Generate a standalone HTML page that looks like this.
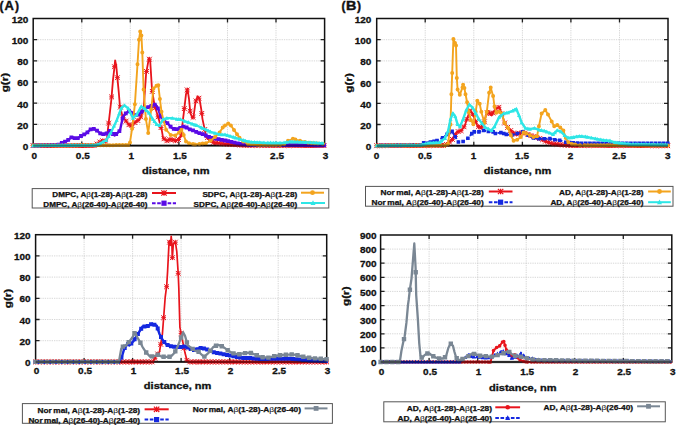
<!DOCTYPE html>
<html><head><meta charset="utf-8"><style>
html,body{margin:0;padding:0;background:#fff;width:677px;height:425px;overflow:hidden}
svg{display:block}
.t{font-family:'Liberation Sans',sans-serif;font-weight:bold;font-size:9.6px;fill:#111;stroke:#111;stroke-width:0.3px}
.a{font-family:'Liberation Sans',sans-serif;font-weight:bold;font-size:9px;fill:#111;stroke:#111;stroke-width:0.3px}
.p{font-family:'Liberation Sans',sans-serif;font-weight:bold;font-size:12px;fill:#111;stroke:#111;stroke-width:0.4px}
.l{font-family:'Liberation Sans',sans-serif;font-weight:bold;font-size:6.6px;fill:#111;stroke:#111;stroke-width:0.25px}
.b{font-weight:normal;stroke-width:0.05px}
</style></head><body>
<svg width="677" height="425" viewBox="0 0 677 425">
<rect width="677" height="425" fill="#fff"/>
<path d="M81.8 18.5V145.6M130.3 18.5V145.6M178.9 18.5V145.6M227.5 18.5V145.6M276.0 18.5V145.6M33.2 124.4H324.6M33.2 103.2H324.6M33.2 82.0H324.6M33.2 60.9H324.6M33.2 39.7H324.6" stroke="#c6c6c6" stroke-width="0.7" stroke-dasharray="1.3 1" fill="none"/>
<path d="M81.8 145.6v-4M81.8 18.5v4M130.3 145.6v-4M130.3 18.5v4M178.9 145.6v-4M178.9 18.5v4M227.5 145.6v-4M227.5 18.5v4M276.0 145.6v-4M276.0 18.5v4M33.2 124.4h4M324.6 124.4h-4M33.2 103.2h4M324.6 103.2h-4M33.2 82.0h4M324.6 82.0h-4M33.2 60.9h4M324.6 60.9h-4M33.2 39.7h4M324.6 39.7h-4" stroke="#222" stroke-width="1.3" fill="none"/>
<text transform="translate(34.20,158.90) scale(1.04,1)" text-anchor="middle" class="t">0</text>
<text transform="translate(82.77,158.90) scale(1.04,1)" text-anchor="middle" class="t">0.5</text>
<text transform="translate(131.33,158.90) scale(1.04,1)" text-anchor="middle" class="t">1</text>
<text transform="translate(179.90,158.90) scale(1.04,1)" text-anchor="middle" class="t">1.5</text>
<text transform="translate(228.47,158.90) scale(1.04,1)" text-anchor="middle" class="t">2</text>
<text transform="translate(277.03,158.90) scale(1.04,1)" text-anchor="middle" class="t">2.5</text>
<text transform="translate(325.60,158.90) scale(1.04,1)" text-anchor="middle" class="t">3</text>
<text transform="translate(28.40,150.00) scale(1.04,1)" text-anchor="end" class="t">0</text>
<text transform="translate(28.40,128.82) scale(1.04,1)" text-anchor="end" class="t">20</text>
<text transform="translate(28.40,107.63) scale(1.04,1)" text-anchor="end" class="t">40</text>
<text transform="translate(28.40,86.45) scale(1.04,1)" text-anchor="end" class="t">60</text>
<text transform="translate(28.40,65.27) scale(1.04,1)" text-anchor="end" class="t">80</text>
<text transform="translate(28.40,44.08) scale(1.04,1)" text-anchor="end" class="t">100</text>
<text transform="translate(28.40,22.90) scale(1.04,1)" text-anchor="end" class="t">120</text>
<text transform="translate(175.70,173.80) scale(1.23,1)" text-anchor="middle" class="a">distance, nm</text>
<text transform="translate(8.20,82.60) rotate(-90) scale(1.3,1)" text-anchor="middle" class="a">g(r)</text>
<path d="M425.2 18.5V145.7M473.8 18.5V145.7M522.4 18.5V145.7M570.9 18.5V145.7M619.5 18.5V145.7M376.7 124.5H668.0M376.7 103.3H668.0M376.7 82.1H668.0M376.7 60.9H668.0M376.7 39.7H668.0" stroke="#c6c6c6" stroke-width="0.7" stroke-dasharray="1.3 1" fill="none"/>
<path d="M425.2 145.7v-4M425.2 18.5v4M473.8 145.7v-4M473.8 18.5v4M522.4 145.7v-4M522.4 18.5v4M570.9 145.7v-4M570.9 18.5v4M619.5 145.7v-4M619.5 18.5v4M376.7 124.5h4M668.0 124.5h-4M376.7 103.3h4M668.0 103.3h-4M376.7 82.1h4M668.0 82.1h-4M376.7 60.9h4M668.0 60.9h-4M376.7 39.7h4M668.0 39.7h-4" stroke="#222" stroke-width="1.3" fill="none"/>
<text transform="translate(376.40,158.70) scale(1.04,1)" text-anchor="middle" class="t">0</text>
<text transform="translate(424.95,158.70) scale(1.04,1)" text-anchor="middle" class="t">0.5</text>
<text transform="translate(473.50,158.70) scale(1.04,1)" text-anchor="middle" class="t">1</text>
<text transform="translate(522.05,158.70) scale(1.04,1)" text-anchor="middle" class="t">1.5</text>
<text transform="translate(570.60,158.70) scale(1.04,1)" text-anchor="middle" class="t">2</text>
<text transform="translate(619.15,158.70) scale(1.04,1)" text-anchor="middle" class="t">2.5</text>
<text transform="translate(667.70,158.70) scale(1.04,1)" text-anchor="middle" class="t">3</text>
<text transform="translate(371.40,150.10) scale(1.04,1)" text-anchor="end" class="t">0</text>
<text transform="translate(371.40,128.90) scale(1.04,1)" text-anchor="end" class="t">20</text>
<text transform="translate(371.40,107.70) scale(1.04,1)" text-anchor="end" class="t">40</text>
<text transform="translate(371.40,86.50) scale(1.04,1)" text-anchor="end" class="t">60</text>
<text transform="translate(371.40,65.30) scale(1.04,1)" text-anchor="end" class="t">80</text>
<text transform="translate(371.40,44.10) scale(1.04,1)" text-anchor="end" class="t">100</text>
<text transform="translate(371.40,22.90) scale(1.04,1)" text-anchor="end" class="t">120</text>
<text transform="translate(517.60,173.90) scale(1.23,1)" text-anchor="middle" class="a">distance, nm</text>
<text transform="translate(352.20,82.90) rotate(-90) scale(1.3,1)" text-anchor="middle" class="a">g(r)</text>
<path d="M84.1 234.7V361.9M132.6 234.7V361.9M181.1 234.7V361.9M229.7 234.7V361.9M278.2 234.7V361.9M35.6 340.7H326.7M35.6 319.5H326.7M35.6 298.3H326.7M35.6 277.1H326.7M35.6 255.9H326.7" stroke="#c6c6c6" stroke-width="0.7" stroke-dasharray="1.3 1" fill="none"/>
<path d="M84.1 361.9v-4M84.1 234.7v4M132.6 361.9v-4M132.6 234.7v4M181.1 361.9v-4M181.1 234.7v4M229.7 361.9v-4M229.7 234.7v4M278.2 361.9v-4M278.2 234.7v4M35.6 340.7h4M326.7 340.7h-4M35.6 319.5h4M326.7 319.5h-4M35.6 298.3h4M326.7 298.3h-4M35.6 277.1h4M326.7 277.1h-4M35.6 255.9h4M326.7 255.9h-4" stroke="#222" stroke-width="1.3" fill="none"/>
<text transform="translate(36.50,373.90) scale(1.04,1)" text-anchor="middle" class="t">0</text>
<text transform="translate(85.02,373.90) scale(1.04,1)" text-anchor="middle" class="t">0.5</text>
<text transform="translate(133.53,373.90) scale(1.04,1)" text-anchor="middle" class="t">1</text>
<text transform="translate(182.05,373.90) scale(1.04,1)" text-anchor="middle" class="t">1.5</text>
<text transform="translate(230.57,373.90) scale(1.04,1)" text-anchor="middle" class="t">2</text>
<text transform="translate(279.08,373.90) scale(1.04,1)" text-anchor="middle" class="t">2.5</text>
<text transform="translate(327.60,373.90) scale(1.04,1)" text-anchor="middle" class="t">3</text>
<text transform="translate(30.60,366.00) scale(1.04,1)" text-anchor="end" class="t">0</text>
<text transform="translate(30.60,344.80) scale(1.04,1)" text-anchor="end" class="t">20</text>
<text transform="translate(30.60,323.60) scale(1.04,1)" text-anchor="end" class="t">40</text>
<text transform="translate(30.60,302.40) scale(1.04,1)" text-anchor="end" class="t">60</text>
<text transform="translate(30.60,281.20) scale(1.04,1)" text-anchor="end" class="t">80</text>
<text transform="translate(30.60,260.00) scale(1.04,1)" text-anchor="end" class="t">100</text>
<text transform="translate(30.60,238.80) scale(1.04,1)" text-anchor="end" class="t">120</text>
<text transform="translate(177.60,389.30) scale(1.23,1)" text-anchor="middle" class="a">distance, nm</text>
<text transform="translate(10.80,298.50) rotate(-90) scale(1.3,1)" text-anchor="middle" class="a">g(r)</text>
<path d="M429.1 235.0V362.0M477.7 235.0V362.0M526.2 235.0V362.0M574.7 235.0V362.0M623.3 235.0V362.0M380.6 347.9H671.8M380.6 333.8H671.8M380.6 319.7H671.8M380.6 305.6H671.8M380.6 291.4H671.8M380.6 277.3H671.8M380.6 263.2H671.8M380.6 249.1H671.8" stroke="#c6c6c6" stroke-width="0.7" stroke-dasharray="1.3 1" fill="none"/>
<path d="M429.1 362.0v-4M429.1 235.0v4M477.7 362.0v-4M477.7 235.0v4M526.2 362.0v-4M526.2 235.0v4M574.7 362.0v-4M574.7 235.0v4M623.3 362.0v-4M623.3 235.0v4M380.6 347.9h4M671.8 347.9h-4M380.6 333.8h4M671.8 333.8h-4M380.6 319.7h4M671.8 319.7h-4M380.6 305.6h4M671.8 305.6h-4M380.6 291.4h4M671.8 291.4h-4M380.6 277.3h4M671.8 277.3h-4M380.6 263.2h4M671.8 263.2h-4M380.6 249.1h4M671.8 249.1h-4" stroke="#222" stroke-width="1.3" fill="none"/>
<text transform="translate(381.50,374.60) scale(1.04,1)" text-anchor="middle" class="t">0</text>
<text transform="translate(430.03,374.60) scale(1.04,1)" text-anchor="middle" class="t">0.5</text>
<text transform="translate(478.57,374.60) scale(1.04,1)" text-anchor="middle" class="t">1</text>
<text transform="translate(527.10,374.60) scale(1.04,1)" text-anchor="middle" class="t">1.5</text>
<text transform="translate(575.63,374.60) scale(1.04,1)" text-anchor="middle" class="t">2</text>
<text transform="translate(624.17,374.60) scale(1.04,1)" text-anchor="middle" class="t">2.5</text>
<text transform="translate(672.70,374.60) scale(1.04,1)" text-anchor="middle" class="t">3</text>
<text transform="translate(376.60,366.10) scale(1.04,1)" text-anchor="end" class="t">0</text>
<text transform="translate(376.60,351.99) scale(1.04,1)" text-anchor="end" class="t">100</text>
<text transform="translate(376.60,337.88) scale(1.04,1)" text-anchor="end" class="t">200</text>
<text transform="translate(376.60,323.77) scale(1.04,1)" text-anchor="end" class="t">300</text>
<text transform="translate(376.60,309.66) scale(1.04,1)" text-anchor="end" class="t">400</text>
<text transform="translate(376.60,295.54) scale(1.04,1)" text-anchor="end" class="t">500</text>
<text transform="translate(376.60,281.43) scale(1.04,1)" text-anchor="end" class="t">600</text>
<text transform="translate(376.60,267.32) scale(1.04,1)" text-anchor="end" class="t">700</text>
<text transform="translate(376.60,253.21) scale(1.04,1)" text-anchor="end" class="t">800</text>
<text transform="translate(376.60,239.10) scale(1.04,1)" text-anchor="end" class="t">900</text>
<text transform="translate(522.70,390.50) scale(1.23,1)" text-anchor="middle" class="a">distance, nm</text>
<text transform="translate(349.30,296.20) rotate(-90) scale(1.3,1)" text-anchor="middle" class="a">g(r)</text>
<rect x="33.2" y="18.5" width="291.4" height="127.1" fill="none" stroke="#111" stroke-width="1.5"/>
<rect x="376.7" y="18.5" width="291.3" height="127.2" fill="none" stroke="#111" stroke-width="1.5"/>
<rect x="35.6" y="234.7" width="291.1" height="127.2" fill="none" stroke="#111" stroke-width="1.5"/>
<rect x="380.6" y="235.0" width="291.2" height="127.0" fill="none" stroke="#111" stroke-width="1.5"/>
<g>
<path d="M33.0 145.6L95.0 145.6L98.3 143.0L102.4 140.6L105.0 141.9L106.9 140.3L107.5 132.9L109.5 115.9L111.3 100.1L113.0 79.9L114.1 70.4L115.1 60.5L116.2 65.1L117.3 76.8L118.8 92.6L119.8 104.9L122.6 117.0L125.4 120.2L128.2 123.7L130.6 126.5L133.0 124.4L135.2 122.3L139.8 119.1L143.6 109.6L146.1 73.6L148.9 58.1L150.2 60.9L152.0 89.5L154.5 105.4L158.2 117.0L161.9 130.8L163.1 138.2L166.9 140.8L170.7 139.2L175.3 140.8L179.1 139.2L181.4 135.0L182.9 120.2L184.2 109.6L186.0 94.2L187.5 88.9L189.0 99.0L190.3 112.8L192.5 118.1L193.6 116.5L195.5 102.2L197.6 96.3L199.6 99.3L201.3 109.6L202.5 119.1L204.3 127.6L205.9 135.5L208.9 139.2L213.5 142.4L225.0 143.9L245.0 145.3L324.6 145.6" stroke="#e8141c" stroke-width="1.8" fill="none" stroke-linejoin="round"/>
<path d="M30.6 145.6h4.8M33.0 143.2v4.8M30.6 143.2l4.8 4.8M35.4 143.2l-4.8 4.8M33.5 145.6h4.8M35.9 143.2v4.8M33.5 143.2l4.8 4.8M38.3 143.2l-4.8 4.8M36.4 145.6h4.8M38.8 143.2v4.8M36.4 143.2l4.8 4.8M41.2 143.2l-4.8 4.8M39.3 145.6h4.8M41.7 143.2v4.8M39.3 143.2l4.8 4.8M44.1 143.2l-4.8 4.8M42.2 145.6h4.8M44.6 143.2v4.8M42.2 143.2l4.8 4.8M47.0 143.2l-4.8 4.8M45.1 145.6h4.8M47.5 143.2v4.8M45.1 143.2l4.8 4.8M49.9 143.2l-4.8 4.8M48.1 145.6h4.8M50.5 143.2v4.8M48.1 143.2l4.8 4.8M52.9 143.2l-4.8 4.8M51.0 145.6h4.8M53.4 143.2v4.8M51.0 143.2l4.8 4.8M55.8 143.2l-4.8 4.8M53.9 145.6h4.8M56.3 143.2v4.8M53.9 143.2l4.8 4.8M58.7 143.2l-4.8 4.8M56.8 145.6h4.8M59.2 143.2v4.8M56.8 143.2l4.8 4.8M61.6 143.2l-4.8 4.8M59.7 145.6h4.8M62.1 143.2v4.8M59.7 143.2l4.8 4.8M64.5 143.2l-4.8 4.8M62.6 145.6h4.8M65.0 143.2v4.8M62.6 143.2l4.8 4.8M67.4 143.2l-4.8 4.8M65.5 145.6h4.8M67.9 143.2v4.8M65.5 143.2l4.8 4.8M70.3 143.2l-4.8 4.8M68.4 145.6h4.8M70.8 143.2v4.8M68.4 143.2l4.8 4.8M73.2 143.2l-4.8 4.8M71.3 145.6h4.8M73.7 143.2v4.8M71.3 143.2l4.8 4.8M76.1 143.2l-4.8 4.8M74.2 145.6h4.8M76.7 143.2v4.8M74.2 143.2l4.8 4.8M79.1 143.2l-4.8 4.8M77.2 145.6h4.8M79.6 143.2v4.8M77.2 143.2l4.8 4.8M82.0 143.2l-4.8 4.8M80.1 145.6h4.8M82.5 143.2v4.8M80.1 143.2l4.8 4.8M84.9 143.2l-4.8 4.8M83.0 145.6h4.8M85.4 143.2v4.8M83.0 143.2l4.8 4.8M87.8 143.2l-4.8 4.8M85.9 145.6h4.8M88.3 143.2v4.8M85.9 143.2l4.8 4.8M90.7 143.2l-4.8 4.8M88.8 145.6h4.8M91.2 143.2v4.8M88.8 143.2l4.8 4.8M93.6 143.2l-4.8 4.8M91.7 145.6h4.8M94.1 143.2v4.8M91.7 143.2l4.8 4.8M96.5 143.2l-4.8 4.8M94.6 144.0h4.8M97.0 141.6v4.8M94.6 141.6l4.8 4.8M99.4 141.6l-4.8 4.8M97.5 142.0h4.8M99.9 139.6v4.8M97.5 139.6l4.8 4.8M102.3 139.6l-4.8 4.8M100.4 140.8h4.8M102.8 138.4v4.8M100.4 138.4l4.8 4.8M105.2 138.4l-4.8 4.8M103.3 141.3h4.8M105.8 138.9v4.8M103.3 138.9l4.8 4.8M108.2 138.9l-4.8 4.8M106.3 123.1h4.8M108.7 120.7v4.8M106.3 120.7l4.8 4.8M111.1 120.7l-4.8 4.8M109.2 96.9h4.8M111.6 94.5v4.8M109.2 94.5l4.8 4.8M114.0 94.5l-4.8 4.8M112.1 66.7h4.8M114.5 64.3v4.8M112.1 64.3l4.8 4.8M116.9 64.3l-4.8 4.8M115.0 77.7h4.8M117.4 75.3v4.8M115.0 75.3l4.8 4.8M119.8 75.3l-4.8 4.8M117.9 107.1h4.8M120.3 104.7v4.8M117.9 104.7l4.8 4.8M122.7 104.7l-4.8 4.8M120.8 117.7h4.8M123.2 115.3v4.8M120.8 115.3l4.8 4.8M125.6 115.3l-4.8 4.8M123.7 121.1h4.8M126.1 118.7v4.8M123.7 118.7l4.8 4.8M128.5 118.7l-4.8 4.8M126.6 124.7h4.8M129.0 122.3v4.8M126.6 122.3l4.8 4.8M131.4 122.3l-4.8 4.8M129.5 125.4h4.8M131.9 123.0v4.8M129.5 123.0l4.8 4.8M134.3 123.0l-4.8 4.8M132.5 122.6h4.8M134.9 120.2v4.8M132.5 120.2l4.8 4.8M137.3 120.2l-4.8 4.8M135.4 120.5h4.8M137.8 118.1v4.8M135.4 118.1l4.8 4.8M140.2 118.1l-4.8 4.8M138.3 116.9h4.8M140.7 114.5v4.8M138.3 114.5l4.8 4.8M143.1 114.5l-4.8 4.8M141.2 109.6h4.8M143.6 107.2v4.8M141.2 107.2l4.8 4.8M146.0 107.2l-4.8 4.8M144.1 71.4h4.8M146.5 69.0v4.8M144.1 69.0l4.8 4.8M148.9 69.0l-4.8 4.8M147.0 59.2h4.8M149.4 56.8v4.8M147.0 56.8l4.8 4.8M151.8 56.8l-4.8 4.8M149.9 91.4h4.8M152.3 89.0v4.8M149.9 89.0l4.8 4.8M154.7 89.0l-4.8 4.8M152.8 107.6h4.8M155.2 105.2v4.8M152.8 105.2l4.8 4.8M157.6 105.2l-4.8 4.8M155.7 116.8h4.8M158.1 114.4v4.8M155.7 114.4l4.8 4.8M160.5 114.4l-4.8 4.8M158.6 127.6h4.8M161.0 125.2v4.8M158.6 125.2l4.8 4.8M163.4 125.2l-4.8 4.8M161.6 138.8h4.8M164.0 136.4v4.8M161.6 136.4l4.8 4.8M166.4 136.4l-4.8 4.8M164.5 140.8h4.8M166.9 138.4v4.8M164.5 138.4l4.8 4.8M169.3 138.4l-4.8 4.8M167.4 139.6h4.8M169.8 137.2v4.8M167.4 137.2l4.8 4.8M172.2 137.2l-4.8 4.8M170.3 139.9h4.8M172.7 137.5v4.8M170.3 137.5l4.8 4.8M175.1 137.5l-4.8 4.8M173.2 140.7h4.8M175.6 138.3v4.8M173.2 138.3l4.8 4.8M178.0 138.3l-4.8 4.8M176.1 139.5h4.8M178.5 137.1v4.8M176.1 137.1l4.8 4.8M180.9 137.1l-4.8 4.8M179.0 134.9h4.8M181.4 132.5v4.8M179.0 132.5l4.8 4.8M183.8 132.5l-4.8 4.8M181.9 108.6h4.8M184.3 106.2v4.8M181.9 106.2l4.8 4.8M186.7 106.2l-4.8 4.8M184.8 89.9h4.8M187.2 87.5v4.8M184.8 87.5l4.8 4.8M189.6 87.5l-4.8 4.8M187.7 111.1h4.8M190.1 108.7v4.8M187.7 108.7l4.8 4.8M192.5 108.7l-4.8 4.8M190.7 117.3h4.8M193.1 114.9v4.8M190.7 114.9l4.8 4.8M195.5 114.9l-4.8 4.8M193.6 100.9h4.8M196.0 98.5v4.8M193.6 98.5l4.8 4.8M198.4 98.5l-4.8 4.8M196.5 98.2h4.8M198.9 95.8v4.8M196.5 95.8l4.8 4.8M201.3 95.8l-4.8 4.8M199.4 113.4h4.8M201.8 111.0v4.8M199.4 111.0l4.8 4.8M204.2 111.0l-4.8 4.8M202.3 129.5h4.8M204.7 127.1v4.8M202.3 127.1l4.8 4.8M207.1 127.1l-4.8 4.8M205.2 137.6h4.8M207.6 135.2v4.8M205.2 135.2l4.8 4.8M210.0 135.2l-4.8 4.8M208.1 140.4h4.8M210.5 138.0v4.8M208.1 138.0l4.8 4.8M212.9 138.0l-4.8 4.8M211.0 142.4h4.8M213.4 140.0v4.8M211.0 140.0l4.8 4.8M215.8 140.0l-4.8 4.8M213.9 142.8h4.8M216.3 140.4v4.8M213.9 140.4l4.8 4.8M218.7 140.4l-4.8 4.8M216.8 143.2h4.8M219.2 140.8v4.8M216.8 140.8l4.8 4.8M221.6 140.8l-4.8 4.8M219.8 143.5h4.8M222.2 141.1v4.8M219.8 141.1l4.8 4.8M224.6 141.1l-4.8 4.8M222.7 143.9h4.8M225.1 141.5v4.8M222.7 141.5l4.8 4.8M227.5 141.5l-4.8 4.8M225.6 144.1h4.8M228.0 141.7v4.8M225.6 141.7l4.8 4.8M230.4 141.7l-4.8 4.8M228.5 144.3h4.8M230.9 141.9v4.8M228.5 141.9l4.8 4.8M233.3 141.9l-4.8 4.8M231.4 144.5h4.8M233.8 142.1v4.8M231.4 142.1l4.8 4.8M236.2 142.1l-4.8 4.8M234.3 144.7h4.8M236.7 142.3v4.8M234.3 142.3l4.8 4.8M239.1 142.3l-4.8 4.8M237.2 144.9h4.8M239.6 142.5v4.8M237.2 142.5l4.8 4.8M242.0 142.5l-4.8 4.8M240.1 145.1h4.8M242.5 142.7v4.8M240.1 142.7l4.8 4.8M244.9 142.7l-4.8 4.8M243.0 145.3h4.8M245.4 142.9v4.8M243.0 142.9l4.8 4.8M247.8 142.9l-4.8 4.8M245.9 145.3h4.8M248.3 142.9v4.8M245.9 142.9l4.8 4.8M250.7 142.9l-4.8 4.8M248.8 145.3h4.8M251.2 142.9v4.8M248.8 142.9l4.8 4.8M253.7 142.9l-4.8 4.8M251.8 145.3h4.8M254.2 142.9v4.8M251.8 142.9l4.8 4.8M256.6 142.9l-4.8 4.8M254.7 145.3h4.8M257.1 142.9v4.8M254.7 142.9l4.8 4.8M259.5 142.9l-4.8 4.8M257.6 145.3h4.8M260.0 142.9v4.8M257.6 142.9l4.8 4.8M262.4 142.9l-4.8 4.8M260.5 145.4h4.8M262.9 143.0v4.8M260.5 143.0l4.8 4.8M265.3 143.0l-4.8 4.8M263.4 145.4h4.8M265.8 143.0v4.8M263.4 143.0l4.8 4.8M268.2 143.0l-4.8 4.8M266.3 145.4h4.8M268.7 143.0v4.8M266.3 143.0l4.8 4.8M271.1 143.0l-4.8 4.8M269.2 145.4h4.8M271.6 143.0v4.8M269.2 143.0l4.8 4.8M274.0 143.0l-4.8 4.8M272.1 145.4h4.8M274.5 143.0v4.8M272.1 143.0l4.8 4.8M276.9 143.0l-4.8 4.8M275.0 145.4h4.8M277.4 143.0v4.8M275.0 143.0l4.8 4.8M279.8 143.0l-4.8 4.8M278.0 145.4h4.8M280.4 143.0v4.8M278.0 143.0l4.8 4.8M282.8 143.0l-4.8 4.8M280.9 145.4h4.8M283.3 143.0v4.8M280.9 143.0l4.8 4.8M285.7 143.0l-4.8 4.8M283.8 145.4h4.8M286.2 143.0v4.8M283.8 143.0l4.8 4.8M288.6 143.0l-4.8 4.8M286.7 145.5h4.8M289.1 143.1v4.8M286.7 143.1l4.8 4.8M291.5 143.1l-4.8 4.8M289.6 145.5h4.8M292.0 143.1v4.8M289.6 143.1l4.8 4.8M294.4 143.1l-4.8 4.8M292.5 145.5h4.8M294.9 143.1v4.8M292.5 143.1l4.8 4.8M297.3 143.1l-4.8 4.8M295.4 145.5h4.8M297.8 143.1v4.8M295.4 143.1l4.8 4.8M300.2 143.1l-4.8 4.8M298.3 145.5h4.8M300.7 143.1v4.8M298.3 143.1l4.8 4.8M303.1 143.1l-4.8 4.8M301.2 145.5h4.8M303.6 143.1v4.8M301.2 143.1l4.8 4.8M306.0 143.1l-4.8 4.8M304.1 145.5h4.8M306.5 143.1v4.8M304.1 143.1l4.8 4.8M308.9 143.1l-4.8 4.8M307.1 145.5h4.8M309.4 143.1v4.8M307.1 143.1l4.8 4.8M311.8 143.1l-4.8 4.8M310.0 145.6h4.8M312.4 143.2v4.8M310.0 143.2l4.8 4.8M314.8 143.2l-4.8 4.8M312.9 145.6h4.8M315.3 143.2v4.8M312.9 143.2l4.8 4.8M317.7 143.2l-4.8 4.8M315.8 145.6h4.8M318.2 143.2v4.8M315.8 143.2l4.8 4.8M320.6 143.2l-4.8 4.8M318.7 145.6h4.8M321.1 143.2v4.8M318.7 143.2l4.8 4.8M323.5 143.2l-4.8 4.8M321.6 145.6h4.8M324.0 143.2v4.8M321.6 143.2l4.8 4.8M326.4 143.2l-4.8 4.8" stroke="#e8141c" stroke-width="1.0" fill="none"/>
<path d="M33.0 145.6L57.7 145.1L61.8 143.0L66.5 141.2L71.8 137.1L76.5 138.9L81.2 135.9L85.9 133.6L90.6 129.4L94.2 128.9L97.7 131.2L101.2 134.2L106.1 133.9L109.9 130.8L114.5 135.5L119.9 130.8L122.9 117.0L125.2 113.8L129.8 110.6L132.9 113.8L136.7 115.9L140.5 112.8L145.9 108.0L150.5 106.4L155.5 104.3L158.5 109.6L160.4 115.9L163.8 120.2L167.6 123.4L171.5 127.6L175.3 129.7L179.1 128.7L182.9 126.5L186.8 127.6L190.6 129.7L194.4 130.8L198.2 132.9L202.0 133.9L205.9 135.5L209.7 137.1L213.5 138.2L217.3 138.9L221.2 139.8L227.2 140.9L237.0 143.3L250.0 145.1L324.6 145.3" stroke="#5a0ae6" stroke-width="2.4" fill="none" stroke-linejoin="round"/>
<path d="M31.1 143.7h3.8v3.8h-3.8zM34.3 143.6h3.8v3.8h-3.8zM37.5 143.6h3.8v3.8h-3.8zM40.7 143.5h3.8v3.8h-3.8zM43.9 143.4h3.8v3.8h-3.8zM47.1 143.4h3.8v3.8h-3.8zM50.3 143.3h3.8v3.8h-3.8zM53.5 143.2h3.8v3.8h-3.8zM56.7 142.7h3.8v3.8h-3.8zM59.9 141.1h3.8v3.8h-3.8zM63.1 139.8h3.8v3.8h-3.8zM66.3 138.0h3.8v3.8h-3.8zM69.5 135.5h3.8v3.8h-3.8zM72.7 136.3h3.8v3.8h-3.8zM75.9 136.2h3.8v3.8h-3.8zM79.1 134.1h3.8v3.8h-3.8zM82.3 132.5h3.8v3.8h-3.8zM85.5 130.4h3.8v3.8h-3.8zM88.7 127.5h3.8v3.8h-3.8zM91.9 127.0h3.8v3.8h-3.8zM95.1 128.8h3.8v3.8h-3.8zM98.3 131.4h3.8v3.8h-3.8zM101.5 132.2h3.8v3.8h-3.8zM104.7 131.6h3.8v3.8h-3.8zM107.9 129.0h3.8v3.8h-3.8zM111.1 132.1h3.8v3.8h-3.8zM114.3 132.1h3.8v3.8h-3.8zM117.5 129.3h3.8v3.8h-3.8zM120.7 116.5h3.8v3.8h-3.8zM123.9 111.5h3.8v3.8h-3.8zM127.1 109.3h3.8v3.8h-3.8zM130.3 111.2h3.8v3.8h-3.8zM133.5 113.3h3.8v3.8h-3.8zM136.7 112.5h3.8v3.8h-3.8zM139.9 109.7h3.8v3.8h-3.8zM143.1 106.9h3.8v3.8h-3.8zM146.3 105.3h3.8v3.8h-3.8zM149.5 104.1h3.8v3.8h-3.8zM152.7 102.8h3.8v3.8h-3.8zM155.9 106.5h3.8v3.8h-3.8zM159.1 114.8h3.8v3.8h-3.8zM162.3 118.6h3.8v3.8h-3.8zM165.5 121.3h3.8v3.8h-3.8zM168.7 124.7h3.8v3.8h-3.8zM171.9 127.0h3.8v3.8h-3.8zM175.1 127.3h3.8v3.8h-3.8zM178.3 126.1h3.8v3.8h-3.8zM181.5 124.8h3.8v3.8h-3.8zM184.7 125.6h3.8v3.8h-3.8zM187.9 127.4h3.8v3.8h-3.8zM191.1 128.5h3.8v3.8h-3.8zM194.3 129.9h3.8v3.8h-3.8zM197.5 131.3h3.8v3.8h-3.8zM200.7 132.3h3.8v3.8h-3.8zM203.9 133.6h3.8v3.8h-3.8zM207.1 134.9h3.8v3.8h-3.8zM210.3 135.9h3.8v3.8h-3.8zM213.5 136.7h3.8v3.8h-3.8zM216.7 137.3h3.8v3.8h-3.8zM219.9 138.0h3.8v3.8h-3.8zM223.1 138.6h3.8v3.8h-3.8zM226.3 139.3h3.8v3.8h-3.8zM229.5 140.0h3.8v3.8h-3.8zM232.7 140.8h3.8v3.8h-3.8zM235.9 141.5h3.8v3.8h-3.8zM239.1 141.9h3.8v3.8h-3.8zM242.3 142.4h3.8v3.8h-3.8zM245.5 142.8h3.8v3.8h-3.8zM248.7 143.2h3.8v3.8h-3.8zM251.9 143.2h3.8v3.8h-3.8zM255.1 143.2h3.8v3.8h-3.8zM258.3 143.2h3.8v3.8h-3.8zM261.5 143.2h3.8v3.8h-3.8zM264.7 143.2h3.8v3.8h-3.8zM267.9 143.2h3.8v3.8h-3.8zM271.1 143.2h3.8v3.8h-3.8zM274.3 143.2h3.8v3.8h-3.8zM277.5 143.3h3.8v3.8h-3.8zM280.7 143.3h3.8v3.8h-3.8zM283.9 143.3h3.8v3.8h-3.8zM287.1 143.3h3.8v3.8h-3.8zM290.3 143.3h3.8v3.8h-3.8zM293.5 143.3h3.8v3.8h-3.8zM296.7 143.3h3.8v3.8h-3.8zM299.9 143.3h3.8v3.8h-3.8zM303.1 143.3h3.8v3.8h-3.8zM306.3 143.3h3.8v3.8h-3.8zM309.5 143.3h3.8v3.8h-3.8zM312.7 143.4h3.8v3.8h-3.8zM315.9 143.4h3.8v3.8h-3.8zM319.1 143.4h3.8v3.8h-3.8zM322.3 143.4h3.8v3.8h-3.8z" fill="#5a0ae6"/>
<path d="M33.0 145.6L128.3 145.1L130.0 142.4L132.1 128.7L134.9 104.3L137.5 64.3L139.0 39.7L140.2 31.5L141.4 35.4L142.3 52.4L143.6 89.5L145.9 119.1L148.2 132.9L151.2 109.6L153.5 88.4L156.5 85.7L158.3 85.2L159.9 99.0L161.5 111.7L163.5 120.2L166.1 129.7L170.7 135.0L175.3 135.5L179.1 132.4L181.4 129.7L183.7 135.0L186.0 141.6L189.0 143.2L195.0 144.5L205.9 143.2L210.5 140.8L215.0 137.1L219.6 132.5L222.7 127.6L225.0 125.5L228.2 123.6L230.9 125.5L234.0 129.9L237.0 134.2L239.5 137.8L243.2 141.5L248.0 144.0L260.0 145.1L280.0 145.0L284.2 144.0L288.0 140.8L292.9 138.8L300.0 140.8L308.3 142.7L322.7 143.8L324.6 144.0" stroke="#f3a41e" stroke-width="1.9" fill="none" stroke-linejoin="round"/>
<path d="M31.0 145.6a2.0 2.0 0 1 0 4.0 0a2.0 2.0 0 1 0 -4.0 0zM34.2 145.6a2.0 2.0 0 1 0 4.0 0a2.0 2.0 0 1 0 -4.0 0zM37.4 145.6a2.0 2.0 0 1 0 4.0 0a2.0 2.0 0 1 0 -4.0 0zM40.6 145.5a2.0 2.0 0 1 0 4.0 0a2.0 2.0 0 1 0 -4.0 0zM43.8 145.5a2.0 2.0 0 1 0 4.0 0a2.0 2.0 0 1 0 -4.0 0zM47.0 145.5a2.0 2.0 0 1 0 4.0 0a2.0 2.0 0 1 0 -4.0 0zM50.2 145.5a2.0 2.0 0 1 0 4.0 0a2.0 2.0 0 1 0 -4.0 0zM53.4 145.5a2.0 2.0 0 1 0 4.0 0a2.0 2.0 0 1 0 -4.0 0zM56.6 145.5a2.0 2.0 0 1 0 4.0 0a2.0 2.0 0 1 0 -4.0 0zM59.8 145.4a2.0 2.0 0 1 0 4.0 0a2.0 2.0 0 1 0 -4.0 0zM63.0 145.4a2.0 2.0 0 1 0 4.0 0a2.0 2.0 0 1 0 -4.0 0zM66.2 145.4a2.0 2.0 0 1 0 4.0 0a2.0 2.0 0 1 0 -4.0 0zM69.4 145.4a2.0 2.0 0 1 0 4.0 0a2.0 2.0 0 1 0 -4.0 0zM72.6 145.4a2.0 2.0 0 1 0 4.0 0a2.0 2.0 0 1 0 -4.0 0zM75.8 145.4a2.0 2.0 0 1 0 4.0 0a2.0 2.0 0 1 0 -4.0 0zM79.0 145.3a2.0 2.0 0 1 0 4.0 0a2.0 2.0 0 1 0 -4.0 0zM82.2 145.3a2.0 2.0 0 1 0 4.0 0a2.0 2.0 0 1 0 -4.0 0zM85.4 145.3a2.0 2.0 0 1 0 4.0 0a2.0 2.0 0 1 0 -4.0 0zM88.6 145.3a2.0 2.0 0 1 0 4.0 0a2.0 2.0 0 1 0 -4.0 0zM91.8 145.3a2.0 2.0 0 1 0 4.0 0a2.0 2.0 0 1 0 -4.0 0zM95.0 145.2a2.0 2.0 0 1 0 4.0 0a2.0 2.0 0 1 0 -4.0 0zM98.2 145.2a2.0 2.0 0 1 0 4.0 0a2.0 2.0 0 1 0 -4.0 0zM101.4 145.2a2.0 2.0 0 1 0 4.0 0a2.0 2.0 0 1 0 -4.0 0zM104.6 145.2a2.0 2.0 0 1 0 4.0 0a2.0 2.0 0 1 0 -4.0 0zM107.8 145.2a2.0 2.0 0 1 0 4.0 0a2.0 2.0 0 1 0 -4.0 0zM111.0 145.2a2.0 2.0 0 1 0 4.0 0a2.0 2.0 0 1 0 -4.0 0zM114.2 145.1a2.0 2.0 0 1 0 4.0 0a2.0 2.0 0 1 0 -4.0 0zM117.4 145.1a2.0 2.0 0 1 0 4.0 0a2.0 2.0 0 1 0 -4.0 0zM120.6 145.1a2.0 2.0 0 1 0 4.0 0a2.0 2.0 0 1 0 -4.0 0zM123.8 145.1a2.0 2.0 0 1 0 4.0 0a2.0 2.0 0 1 0 -4.0 0zM126.3 145.1a2.0 2.0 0 1 0 4.0 0a2.0 2.0 0 1 0 -4.0 0zM128.0 142.4a2.0 2.0 0 1 0 4.0 0a2.0 2.0 0 1 0 -4.0 0zM130.1 128.7a2.0 2.0 0 1 0 4.0 0a2.0 2.0 0 1 0 -4.0 0zM132.9 104.3a2.0 2.0 0 1 0 4.0 0a2.0 2.0 0 1 0 -4.0 0zM135.5 64.3a2.0 2.0 0 1 0 4.0 0a2.0 2.0 0 1 0 -4.0 0zM137.0 39.7a2.0 2.0 0 1 0 4.0 0a2.0 2.0 0 1 0 -4.0 0zM138.2 31.5a2.0 2.0 0 1 0 4.0 0a2.0 2.0 0 1 0 -4.0 0zM139.4 35.4a2.0 2.0 0 1 0 4.0 0a2.0 2.0 0 1 0 -4.0 0zM140.3 52.4a2.0 2.0 0 1 0 4.0 0a2.0 2.0 0 1 0 -4.0 0zM141.6 89.5a2.0 2.0 0 1 0 4.0 0a2.0 2.0 0 1 0 -4.0 0zM143.9 119.1a2.0 2.0 0 1 0 4.0 0a2.0 2.0 0 1 0 -4.0 0zM146.2 132.9a2.0 2.0 0 1 0 4.0 0a2.0 2.0 0 1 0 -4.0 0zM149.2 109.6a2.0 2.0 0 1 0 4.0 0a2.0 2.0 0 1 0 -4.0 0zM151.5 88.4a2.0 2.0 0 1 0 4.0 0a2.0 2.0 0 1 0 -4.0 0zM154.5 85.7a2.0 2.0 0 1 0 4.0 0a2.0 2.0 0 1 0 -4.0 0zM156.3 85.2a2.0 2.0 0 1 0 4.0 0a2.0 2.0 0 1 0 -4.0 0zM157.9 99.0a2.0 2.0 0 1 0 4.0 0a2.0 2.0 0 1 0 -4.0 0zM159.5 111.7a2.0 2.0 0 1 0 4.0 0a2.0 2.0 0 1 0 -4.0 0zM161.5 120.2a2.0 2.0 0 1 0 4.0 0a2.0 2.0 0 1 0 -4.0 0zM164.1 129.7a2.0 2.0 0 1 0 4.0 0a2.0 2.0 0 1 0 -4.0 0zM168.7 135.0a2.0 2.0 0 1 0 4.0 0a2.0 2.0 0 1 0 -4.0 0zM173.3 135.5a2.0 2.0 0 1 0 4.0 0a2.0 2.0 0 1 0 -4.0 0zM177.1 132.4a2.0 2.0 0 1 0 4.0 0a2.0 2.0 0 1 0 -4.0 0zM179.4 129.7a2.0 2.0 0 1 0 4.0 0a2.0 2.0 0 1 0 -4.0 0zM181.7 135.0a2.0 2.0 0 1 0 4.0 0a2.0 2.0 0 1 0 -4.0 0zM184.0 141.6a2.0 2.0 0 1 0 4.0 0a2.0 2.0 0 1 0 -4.0 0zM187.0 143.2a2.0 2.0 0 1 0 4.0 0a2.0 2.0 0 1 0 -4.0 0zM191.0 144.1a2.0 2.0 0 1 0 4.0 0a2.0 2.0 0 1 0 -4.0 0zM193.0 144.5a2.0 2.0 0 1 0 4.0 0a2.0 2.0 0 1 0 -4.0 0zM197.4 144.0a2.0 2.0 0 1 0 4.0 0a2.0 2.0 0 1 0 -4.0 0zM200.6 143.6a2.0 2.0 0 1 0 4.0 0a2.0 2.0 0 1 0 -4.0 0zM203.9 143.2a2.0 2.0 0 1 0 4.0 0a2.0 2.0 0 1 0 -4.0 0zM208.5 140.8a2.0 2.0 0 1 0 4.0 0a2.0 2.0 0 1 0 -4.0 0zM213.0 137.1a2.0 2.0 0 1 0 4.0 0a2.0 2.0 0 1 0 -4.0 0zM217.6 132.5a2.0 2.0 0 1 0 4.0 0a2.0 2.0 0 1 0 -4.0 0zM220.7 127.6a2.0 2.0 0 1 0 4.0 0a2.0 2.0 0 1 0 -4.0 0zM223.0 125.5a2.0 2.0 0 1 0 4.0 0a2.0 2.0 0 1 0 -4.0 0zM226.2 123.6a2.0 2.0 0 1 0 4.0 0a2.0 2.0 0 1 0 -4.0 0zM228.9 125.5a2.0 2.0 0 1 0 4.0 0a2.0 2.0 0 1 0 -4.0 0zM232.0 129.9a2.0 2.0 0 1 0 4.0 0a2.0 2.0 0 1 0 -4.0 0zM235.0 134.2a2.0 2.0 0 1 0 4.0 0a2.0 2.0 0 1 0 -4.0 0zM237.5 137.8a2.0 2.0 0 1 0 4.0 0a2.0 2.0 0 1 0 -4.0 0zM241.2 141.5a2.0 2.0 0 1 0 4.0 0a2.0 2.0 0 1 0 -4.0 0zM246.0 144.0a2.0 2.0 0 1 0 4.0 0a2.0 2.0 0 1 0 -4.0 0zM248.6 144.2a2.0 2.0 0 1 0 4.0 0a2.0 2.0 0 1 0 -4.0 0zM251.8 144.5a2.0 2.0 0 1 0 4.0 0a2.0 2.0 0 1 0 -4.0 0zM255.0 144.8a2.0 2.0 0 1 0 4.0 0a2.0 2.0 0 1 0 -4.0 0zM258.0 145.1a2.0 2.0 0 1 0 4.0 0a2.0 2.0 0 1 0 -4.0 0zM261.4 145.1a2.0 2.0 0 1 0 4.0 0a2.0 2.0 0 1 0 -4.0 0zM264.6 145.0a2.0 2.0 0 1 0 4.0 0a2.0 2.0 0 1 0 -4.0 0zM267.8 145.0a2.0 2.0 0 1 0 4.0 0a2.0 2.0 0 1 0 -4.0 0zM271.0 145.0a2.0 2.0 0 1 0 4.0 0a2.0 2.0 0 1 0 -4.0 0zM274.2 145.0a2.0 2.0 0 1 0 4.0 0a2.0 2.0 0 1 0 -4.0 0zM278.0 145.0a2.0 2.0 0 1 0 4.0 0a2.0 2.0 0 1 0 -4.0 0zM282.2 144.0a2.0 2.0 0 1 0 4.0 0a2.0 2.0 0 1 0 -4.0 0zM286.0 140.8a2.0 2.0 0 1 0 4.0 0a2.0 2.0 0 1 0 -4.0 0zM290.9 138.8a2.0 2.0 0 1 0 4.0 0a2.0 2.0 0 1 0 -4.0 0zM293.4 139.5a2.0 2.0 0 1 0 4.0 0a2.0 2.0 0 1 0 -4.0 0zM298.0 140.8a2.0 2.0 0 1 0 4.0 0a2.0 2.0 0 1 0 -4.0 0zM303.0 142.0a2.0 2.0 0 1 0 4.0 0a2.0 2.0 0 1 0 -4.0 0zM306.3 142.7a2.0 2.0 0 1 0 4.0 0a2.0 2.0 0 1 0 -4.0 0zM309.4 143.0a2.0 2.0 0 1 0 4.0 0a2.0 2.0 0 1 0 -4.0 0zM312.6 143.2a2.0 2.0 0 1 0 4.0 0a2.0 2.0 0 1 0 -4.0 0zM315.8 143.4a2.0 2.0 0 1 0 4.0 0a2.0 2.0 0 1 0 -4.0 0zM320.7 143.8a2.0 2.0 0 1 0 4.0 0a2.0 2.0 0 1 0 -4.0 0z" fill="#f3a41e"/>
<path d="M33.0 145.6L95.0 145.1L97.8 144.5L100.0 143.5L103.0 141.9L106.1 140.3L110.7 132.9L116.8 120.2L121.4 108.0L124.5 105.4L128.3 108.5L132.9 118.1L136.7 114.9L141.3 106.4L144.3 108.5L148.9 112.8L152.8 119.1L156.6 124.4L159.5 125.5L163.1 119.5L166.9 118.1L172.2 118.1L176.8 119.1L180.6 119.5L184.5 121.2L188.3 122.3L192.1 124.0L196.7 125.5L201.3 127.6L205.9 129.7L210.5 131.8L215.0 133.2L219.6 134.5L225.0 134.7L233.4 137.2L239.5 139.1L245.6 140.9L251.7 142.1L264.0 142.7L280.0 143.0L284.0 142.6L290.0 141.7L310.0 142.4L324.0 143.5" stroke="#2ee6e6" stroke-width="2.4" fill="none" stroke-linejoin="round"/>
<path d="M33.0 143.4l2.0 3.8h-4.0zM35.7 143.4l2.0 3.8h-4.0zM38.4 143.4l2.0 3.8h-4.0zM41.1 143.3l2.0 3.8h-4.0zM43.8 143.3l2.0 3.8h-4.0zM46.5 143.3l2.0 3.8h-4.0zM49.2 143.3l2.0 3.8h-4.0zM51.9 143.2l2.0 3.8h-4.0zM54.6 143.2l2.0 3.8h-4.0zM57.3 143.2l2.0 3.8h-4.0zM60.0 143.2l2.0 3.8h-4.0zM62.7 143.1l2.0 3.8h-4.0zM65.4 143.1l2.0 3.8h-4.0zM68.1 143.1l2.0 3.8h-4.0zM70.8 143.1l2.0 3.8h-4.0zM73.5 143.1l2.0 3.8h-4.0zM76.2 143.0l2.0 3.8h-4.0zM78.9 143.0l2.0 3.8h-4.0zM81.6 143.0l2.0 3.8h-4.0zM84.3 143.0l2.0 3.8h-4.0zM87.0 142.9l2.0 3.8h-4.0zM89.7 142.9l2.0 3.8h-4.0zM92.4 142.9l2.0 3.8h-4.0zM95.0 142.9l2.0 3.8h-4.0zM97.8 142.3l2.0 3.8h-4.0zM100.0 141.3l2.0 3.8h-4.0zM103.0 139.7l2.0 3.8h-4.0zM106.1 138.1l2.0 3.8h-4.0zM108.6 134.1l2.0 3.8h-4.0zM110.7 130.7l2.0 3.8h-4.0zM114.0 123.8l2.0 3.8h-4.0zM116.8 118.0l2.0 3.8h-4.0zM119.4 111.1l2.0 3.8h-4.0zM121.4 105.8l2.0 3.8h-4.0zM124.5 103.2l2.0 3.8h-4.0zM128.3 106.3l2.0 3.8h-4.0zM130.2 110.3l2.0 3.8h-4.0zM132.9 115.9l2.0 3.8h-4.0zM136.7 112.7l2.0 3.8h-4.0zM141.3 104.2l2.0 3.8h-4.0zM144.3 106.3l2.0 3.8h-4.0zM146.4 108.3l2.0 3.8h-4.0zM148.9 110.6l2.0 3.8h-4.0zM152.8 116.9l2.0 3.8h-4.0zM154.5 119.3l2.0 3.8h-4.0zM156.6 122.2l2.0 3.8h-4.0zM159.5 123.3l2.0 3.8h-4.0zM163.1 117.3l2.0 3.8h-4.0zM166.9 115.9l2.0 3.8h-4.0zM172.2 115.9l2.0 3.8h-4.0zM176.8 116.9l2.0 3.8h-4.0zM178.8 117.1l2.0 3.8h-4.0zM180.6 117.3l2.0 3.8h-4.0zM184.5 119.0l2.0 3.8h-4.0zM188.3 120.1l2.0 3.8h-4.0zM192.1 121.8l2.0 3.8h-4.0zM195.0 122.7l2.0 3.8h-4.0zM196.7 123.3l2.0 3.8h-4.0zM201.3 125.4l2.0 3.8h-4.0zM203.1 126.2l2.0 3.8h-4.0zM205.9 127.5l2.0 3.8h-4.0zM208.5 128.7l2.0 3.8h-4.0zM210.5 129.6l2.0 3.8h-4.0zM215.0 131.0l2.0 3.8h-4.0zM219.6 132.3l2.0 3.8h-4.0zM222.0 132.4l2.0 3.8h-4.0zM225.0 132.5l2.0 3.8h-4.0zM227.4 133.2l2.0 3.8h-4.0zM230.1 134.0l2.0 3.8h-4.0zM233.4 135.0l2.0 3.8h-4.0zM235.5 135.7l2.0 3.8h-4.0zM239.5 136.9l2.0 3.8h-4.0zM243.6 138.1l2.0 3.8h-4.0zM245.6 138.7l2.0 3.8h-4.0zM249.0 139.4l2.0 3.8h-4.0zM251.7 139.9l2.0 3.8h-4.0zM254.4 140.0l2.0 3.8h-4.0zM257.1 140.2l2.0 3.8h-4.0zM259.8 140.3l2.0 3.8h-4.0zM264.0 140.5l2.0 3.8h-4.0zM267.9 140.6l2.0 3.8h-4.0zM270.6 140.6l2.0 3.8h-4.0zM273.3 140.7l2.0 3.8h-4.0zM276.0 140.7l2.0 3.8h-4.0zM280.0 140.8l2.0 3.8h-4.0zM284.0 140.4l2.0 3.8h-4.0zM286.8 140.0l2.0 3.8h-4.0zM290.0 139.5l2.0 3.8h-4.0zM292.2 139.6l2.0 3.8h-4.0zM294.9 139.7l2.0 3.8h-4.0zM297.6 139.8l2.0 3.8h-4.0zM300.3 139.9l2.0 3.8h-4.0zM303.0 140.0l2.0 3.8h-4.0zM305.7 140.1l2.0 3.8h-4.0zM310.0 140.2l2.0 3.8h-4.0zM313.8 140.5l2.0 3.8h-4.0zM316.5 140.7l2.0 3.8h-4.0zM319.2 140.9l2.0 3.8h-4.0zM321.9 141.1l2.0 3.8h-4.0z" fill="#2ee6e6"/>
<path d="M376.7 145.7L445.0 145.4L447.4 143.9L452.1 139.9L455.2 134.5L458.4 131.4L461.5 130.5L464.7 125.8L467.9 116.4L470.2 110.1L472.6 113.9L475.0 119.5L477.3 125.8L480.5 128.2L483.6 125.0L486.0 115.0L488.4 110.9L491.5 115.6L495.4 109.0L499.1 107.2L501.8 113.6L504.5 122.6L508.1 128.1L511.7 131.7L515.4 134.4L519.0 133.5L522.6 132.6L526.2 133.5L529.9 135.3L535.3 137.0L540.7 138.8L546.2 141.6L551.6 143.4L560.0 144.6L570.0 145.4L668.0 145.7" stroke="#e8141c" stroke-width="1.8" fill="none" stroke-linejoin="round"/>
<path d="M374.3 145.7h4.8M376.7 143.3v4.8M374.3 143.3l4.8 4.8M379.1 143.3l-4.8 4.8M377.2 145.7h4.8M379.6 143.3v4.8M377.2 143.3l4.8 4.8M382.0 143.3l-4.8 4.8M380.1 145.7h4.8M382.5 143.3v4.8M380.1 143.3l4.8 4.8M384.9 143.3l-4.8 4.8M383.0 145.7h4.8M385.4 143.3v4.8M383.0 143.3l4.8 4.8M387.8 143.3l-4.8 4.8M385.9 145.6h4.8M388.3 143.2v4.8M385.9 143.2l4.8 4.8M390.7 143.2l-4.8 4.8M388.9 145.6h4.8M391.2 143.2v4.8M388.9 143.2l4.8 4.8M393.6 143.2l-4.8 4.8M391.8 145.6h4.8M394.2 143.2v4.8M391.8 143.2l4.8 4.8M396.6 143.2l-4.8 4.8M394.7 145.6h4.8M397.1 143.2v4.8M394.7 143.2l4.8 4.8M399.5 143.2l-4.8 4.8M397.6 145.6h4.8M400.0 143.2v4.8M397.6 143.2l4.8 4.8M402.4 143.2l-4.8 4.8M400.5 145.6h4.8M402.9 143.2v4.8M400.5 143.2l4.8 4.8M405.3 143.2l-4.8 4.8M403.4 145.6h4.8M405.8 143.2v4.8M403.4 143.2l4.8 4.8M408.2 143.2l-4.8 4.8M406.3 145.6h4.8M408.7 143.2v4.8M406.3 143.2l4.8 4.8M411.1 143.2l-4.8 4.8M409.2 145.5h4.8M411.6 143.1v4.8M409.2 143.1l4.8 4.8M414.0 143.1l-4.8 4.8M412.1 145.5h4.8M414.5 143.1v4.8M412.1 143.1l4.8 4.8M416.9 143.1l-4.8 4.8M415.0 145.5h4.8M417.4 143.1v4.8M415.0 143.1l4.8 4.8M419.8 143.1l-4.8 4.8M418.0 145.5h4.8M420.4 143.1v4.8M418.0 143.1l4.8 4.8M422.8 143.1l-4.8 4.8M420.9 145.5h4.8M423.3 143.1v4.8M420.9 143.1l4.8 4.8M425.7 143.1l-4.8 4.8M423.8 145.5h4.8M426.2 143.1v4.8M423.8 143.1l4.8 4.8M428.6 143.1l-4.8 4.8M426.7 145.5h4.8M429.1 143.1v4.8M426.7 143.1l4.8 4.8M431.5 143.1l-4.8 4.8M429.6 145.4h4.8M432.0 143.0v4.8M429.6 143.0l4.8 4.8M434.4 143.0l-4.8 4.8M432.5 145.4h4.8M434.9 143.0v4.8M432.5 143.0l4.8 4.8M437.3 143.0l-4.8 4.8M435.4 145.4h4.8M437.8 143.0v4.8M435.4 143.0l4.8 4.8M440.2 143.0l-4.8 4.8M438.3 145.4h4.8M440.7 143.0v4.8M438.3 143.0l4.8 4.8M443.1 143.0l-4.8 4.8M441.2 145.4h4.8M443.6 143.0v4.8M441.2 143.0l4.8 4.8M446.0 143.0l-4.8 4.8M444.1 144.4h4.8M446.5 142.0v4.8M444.1 142.0l4.8 4.8M448.9 142.0l-4.8 4.8M447.1 142.1h4.8M449.4 139.7v4.8M447.1 139.7l4.8 4.8M451.8 139.7l-4.8 4.8M450.0 139.4h4.8M452.4 137.0v4.8M450.0 137.0l4.8 4.8M454.8 137.0l-4.8 4.8M452.9 134.4h4.8M455.3 132.0v4.8M452.9 132.0l4.8 4.8M457.7 132.0l-4.8 4.8M455.8 131.6h4.8M458.2 129.2v4.8M455.8 129.2l4.8 4.8M460.6 129.2l-4.8 4.8M458.7 130.7h4.8M461.1 128.3v4.8M458.7 128.3l4.8 4.8M463.5 128.3l-4.8 4.8M461.6 126.8h4.8M464.0 124.4v4.8M461.6 124.4l4.8 4.8M466.4 124.4l-4.8 4.8M464.5 119.3h4.8M466.9 116.9v4.8M464.5 116.9l4.8 4.8M469.3 116.9l-4.8 4.8M467.4 111.1h4.8M469.8 108.7v4.8M467.4 108.7l4.8 4.8M472.2 108.7l-4.8 4.8M470.3 114.2h4.8M472.7 111.8v4.8M470.3 111.8l4.8 4.8M475.1 111.8l-4.8 4.8M473.2 121.3h4.8M475.6 118.9v4.8M473.2 118.9l4.8 4.8M478.0 118.9l-4.8 4.8M476.2 126.7h4.8M478.6 124.3v4.8M476.2 124.3l4.8 4.8M480.9 124.3l-4.8 4.8M479.1 127.2h4.8M481.5 124.8v4.8M479.1 124.8l4.8 4.8M483.9 124.8l-4.8 4.8M482.0 121.8h4.8M484.4 119.4v4.8M482.0 119.4l4.8 4.8M486.8 119.4l-4.8 4.8M484.9 112.8h4.8M487.3 110.4v4.8M484.9 110.4l4.8 4.8M489.7 110.4l-4.8 4.8M487.8 113.6h4.8M490.2 111.2v4.8M487.8 111.2l4.8 4.8M492.6 111.2l-4.8 4.8M490.7 112.9h4.8M493.1 110.5v4.8M490.7 110.5l4.8 4.8M495.5 110.5l-4.8 4.8M493.6 108.7h4.8M496.0 106.3v4.8M493.6 106.3l4.8 4.8M498.4 106.3l-4.8 4.8M496.5 107.3h4.8M498.9 104.9v4.8M496.5 104.9l4.8 4.8M501.3 104.9l-4.8 4.8M499.4 113.7h4.8M501.8 111.3v4.8M499.4 111.3l4.8 4.8M504.2 111.3l-4.8 4.8M502.3 123.0h4.8M504.7 120.6v4.8M502.3 120.6l4.8 4.8M507.1 120.6l-4.8 4.8M505.2 127.4h4.8M507.6 125.0v4.8M505.2 125.0l4.8 4.8M510.0 125.0l-4.8 4.8M508.2 130.6h4.8M510.6 128.2v4.8M508.2 128.2l4.8 4.8M513.0 128.2l-4.8 4.8M511.1 133.0h4.8M513.5 130.6v4.8M511.1 130.6l4.8 4.8M515.9 130.6l-4.8 4.8M514.0 134.1h4.8M516.4 131.7v4.8M514.0 131.7l4.8 4.8M518.8 131.7l-4.8 4.8M516.9 133.4h4.8M519.3 131.0v4.8M516.9 131.0l4.8 4.8M521.7 131.0l-4.8 4.8M519.8 132.7h4.8M522.2 130.3v4.8M519.8 130.3l4.8 4.8M524.6 130.3l-4.8 4.8M522.7 133.2h4.8M525.1 130.8v4.8M522.7 130.8l4.8 4.8M527.5 130.8l-4.8 4.8M525.6 134.4h4.8M528.0 132.0v4.8M525.6 132.0l4.8 4.8M530.4 132.0l-4.8 4.8M528.5 135.6h4.8M530.9 133.2v4.8M528.5 133.2l4.8 4.8M533.3 133.2l-4.8 4.8M531.4 136.5h4.8M533.8 134.1v4.8M531.4 134.1l4.8 4.8M536.2 134.1l-4.8 4.8M534.4 137.5h4.8M536.8 135.1v4.8M534.4 135.1l4.8 4.8M539.1 135.1l-4.8 4.8M537.3 138.5h4.8M539.7 136.1v4.8M537.3 136.1l4.8 4.8M542.1 136.1l-4.8 4.8M540.2 139.7h4.8M542.6 137.3v4.8M540.2 137.3l4.8 4.8M545.0 137.3l-4.8 4.8M543.1 141.2h4.8M545.5 138.8v4.8M543.1 138.8l4.8 4.8M547.9 138.8l-4.8 4.8M546.0 142.3h4.8M548.4 139.9v4.8M546.0 139.9l4.8 4.8M550.8 139.9l-4.8 4.8M548.9 143.3h4.8M551.3 140.9v4.8M548.9 140.9l4.8 4.8M553.7 140.9l-4.8 4.8M551.8 143.8h4.8M554.2 141.4v4.8M551.8 141.4l4.8 4.8M556.6 141.4l-4.8 4.8M554.7 144.2h4.8M557.1 141.8v4.8M554.7 141.8l4.8 4.8M559.5 141.8l-4.8 4.8M557.6 144.6h4.8M560.0 142.2v4.8M557.6 142.2l4.8 4.8M562.4 142.2l-4.8 4.8M560.5 144.9h4.8M562.9 142.5v4.8M560.5 142.5l4.8 4.8M565.3 142.5l-4.8 4.8M563.5 145.1h4.8M565.9 142.7v4.8M563.5 142.7l4.8 4.8M568.2 142.7l-4.8 4.8M566.4 145.3h4.8M568.8 142.9v4.8M566.4 142.9l4.8 4.8M571.2 142.9l-4.8 4.8M569.3 145.4h4.8M571.7 143.0v4.8M569.3 143.0l4.8 4.8M574.1 143.0l-4.8 4.8M572.2 145.4h4.8M574.6 143.0v4.8M572.2 143.0l4.8 4.8M577.0 143.0l-4.8 4.8M575.1 145.4h4.8M577.5 143.0v4.8M575.1 143.0l4.8 4.8M579.9 143.0l-4.8 4.8M578.0 145.4h4.8M580.4 143.0v4.8M578.0 143.0l4.8 4.8M582.8 143.0l-4.8 4.8M580.9 145.4h4.8M583.3 143.0v4.8M580.9 143.0l4.8 4.8M585.7 143.0l-4.8 4.8M583.8 145.4h4.8M586.2 143.0v4.8M583.8 143.0l4.8 4.8M588.6 143.0l-4.8 4.8M586.7 145.4h4.8M589.1 143.0v4.8M586.7 143.0l4.8 4.8M591.5 143.0l-4.8 4.8M589.6 145.5h4.8M592.0 143.1v4.8M589.6 143.1l4.8 4.8M594.4 143.1l-4.8 4.8M592.6 145.5h4.8M595.0 143.1v4.8M592.6 143.1l4.8 4.8M597.4 143.1l-4.8 4.8M595.5 145.5h4.8M597.9 143.1v4.8M595.5 143.1l4.8 4.8M600.3 143.1l-4.8 4.8M598.4 145.5h4.8M600.8 143.1v4.8M598.4 143.1l4.8 4.8M603.2 143.1l-4.8 4.8M601.3 145.5h4.8M603.7 143.1v4.8M601.3 143.1l4.8 4.8M606.1 143.1l-4.8 4.8M604.2 145.5h4.8M606.6 143.1v4.8M604.2 143.1l4.8 4.8M609.0 143.1l-4.8 4.8M607.1 145.5h4.8M609.5 143.1v4.8M607.1 143.1l4.8 4.8M611.9 143.1l-4.8 4.8M610.0 145.5h4.8M612.4 143.1v4.8M610.0 143.1l4.8 4.8M614.8 143.1l-4.8 4.8M612.9 145.5h4.8M615.3 143.1v4.8M612.9 143.1l4.8 4.8M617.7 143.1l-4.8 4.8M615.8 145.5h4.8M618.2 143.1v4.8M615.8 143.1l4.8 4.8M620.6 143.1l-4.8 4.8M618.7 145.5h4.8M621.1 143.1v4.8M618.7 143.1l4.8 4.8M623.5 143.1l-4.8 4.8M621.6 145.6h4.8M624.0 143.2v4.8M621.6 143.2l4.8 4.8M626.4 143.2l-4.8 4.8M624.6 145.6h4.8M627.0 143.2v4.8M624.6 143.2l4.8 4.8M629.4 143.2l-4.8 4.8M627.5 145.6h4.8M629.9 143.2v4.8M627.5 143.2l4.8 4.8M632.3 143.2l-4.8 4.8M630.4 145.6h4.8M632.8 143.2v4.8M630.4 143.2l4.8 4.8M635.2 143.2l-4.8 4.8M633.3 145.6h4.8M635.7 143.2v4.8M633.3 143.2l4.8 4.8M638.1 143.2l-4.8 4.8M636.2 145.6h4.8M638.6 143.2v4.8M636.2 143.2l4.8 4.8M641.0 143.2l-4.8 4.8M639.1 145.6h4.8M641.5 143.2v4.8M639.1 143.2l4.8 4.8M643.9 143.2l-4.8 4.8M642.0 145.6h4.8M644.4 143.2v4.8M642.0 143.2l4.8 4.8M646.8 143.2l-4.8 4.8M644.9 145.6h4.8M647.3 143.2v4.8M644.9 143.2l4.8 4.8M649.7 143.2l-4.8 4.8M647.8 145.6h4.8M650.2 143.2v4.8M647.8 143.2l4.8 4.8M652.6 143.2l-4.8 4.8M650.8 145.7h4.8M653.1 143.3v4.8M650.8 143.3l4.8 4.8M655.5 143.3l-4.8 4.8M653.7 145.7h4.8M656.1 143.3v4.8M653.7 143.3l4.8 4.8M658.5 143.3l-4.8 4.8M656.6 145.7h4.8M659.0 143.3v4.8M656.6 143.3l4.8 4.8M661.4 143.3l-4.8 4.8M659.5 145.7h4.8M661.9 143.3v4.8M659.5 143.3l4.8 4.8M664.3 143.3l-4.8 4.8M662.4 145.7h4.8M664.8 143.3v4.8M662.4 143.3l4.8 4.8M667.2 143.3l-4.8 4.8M665.3 145.7h4.8M667.7 143.3v4.8M665.3 143.3l4.8 4.8M670.1 143.3l-4.8 4.8" stroke="#e8141c" stroke-width="1.0" fill="none"/>
<path d="M376.7 145.7L420.0 145.2L423.7 142.7L430.4 142.1L437.0 140.5L442.6 137.8L447.0 134.4L449.5 132.4L452.1 131.4L455.2 136.8L458.4 142.0L463.1 141.5L467.9 138.3L471.8 133.6L474.2 131.9L478.9 131.9L483.6 130.5L488.4 131.4L493.1 131.9L495.4 133.5L500.9 132.6L506.3 134.4L511.7 135.3L517.2 133.5L522.6 131.7L528.0 135.3L533.5 138.0L538.9 138.8L544.3 138.8L549.9 138.6L554.8 139.8L559.7 140.3L565.8 142.2L573.2 142.7L581.7 143.2L594.0 143.4L668.0 143.4" stroke="#1428e0" stroke-width="1.9" fill="none" stroke-linejoin="round" stroke-dasharray="3 2"/>
<path d="M374.9 143.9h3.6v3.6h-3.6zM379.0 143.8h3.6v3.6h-3.6zM383.1 143.8h3.6v3.6h-3.6zM387.2 143.7h3.6v3.6h-3.6zM391.3 143.7h3.6v3.6h-3.6zM395.4 143.6h3.6v3.6h-3.6zM399.5 143.6h3.6v3.6h-3.6zM403.6 143.5h3.6v3.6h-3.6zM407.7 143.5h3.6v3.6h-3.6zM411.8 143.4h3.6v3.6h-3.6zM418.2 143.4h3.6v3.6h-3.6zM421.9 140.9h3.6v3.6h-3.6zM428.6 140.3h3.6v3.6h-3.6zM432.3 139.4h3.6v3.6h-3.6zM435.2 138.7h3.6v3.6h-3.6zM440.8 135.9h3.6v3.6h-3.6zM445.2 132.6h3.6v3.6h-3.6zM447.7 130.6h3.6v3.6h-3.6zM450.3 129.6h3.6v3.6h-3.6zM453.4 135.0h3.6v3.6h-3.6zM456.6 140.2h3.6v3.6h-3.6zM461.3 139.7h3.6v3.6h-3.6zM466.1 136.5h3.6v3.6h-3.6zM470.0 131.8h3.6v3.6h-3.6zM472.4 130.1h3.6v3.6h-3.6zM477.1 130.1h3.6v3.6h-3.6zM481.8 128.7h3.6v3.6h-3.6zM486.6 129.6h3.6v3.6h-3.6zM491.3 130.1h3.6v3.6h-3.6zM493.6 131.7h3.6v3.6h-3.6zM499.1 130.8h3.6v3.6h-3.6zM502.0 131.7h3.6v3.6h-3.6zM504.5 132.6h3.6v3.6h-3.6zM509.9 133.5h3.6v3.6h-3.6zM515.4 131.7h3.6v3.6h-3.6zM520.8 129.9h3.6v3.6h-3.6zM526.2 133.5h3.6v3.6h-3.6zM531.7 136.2h3.6v3.6h-3.6zM537.1 137.0h3.6v3.6h-3.6zM542.5 137.0h3.6v3.6h-3.6zM548.1 136.8h3.6v3.6h-3.6zM553.0 138.0h3.6v3.6h-3.6zM557.9 138.5h3.6v3.6h-3.6zM564.0 140.4h3.6v3.6h-3.6zM567.6 140.7h3.6v3.6h-3.6zM571.4 140.9h3.6v3.6h-3.6zM575.8 141.2h3.6v3.6h-3.6zM579.9 141.4h3.6v3.6h-3.6zM584.0 141.4h3.6v3.6h-3.6zM588.1 141.5h3.6v3.6h-3.6zM592.2 141.6h3.6v3.6h-3.6zM596.3 141.6h3.6v3.6h-3.6zM600.4 141.6h3.6v3.6h-3.6zM604.5 141.6h3.6v3.6h-3.6zM608.6 141.6h3.6v3.6h-3.6zM612.7 141.6h3.6v3.6h-3.6zM616.8 141.6h3.6v3.6h-3.6zM620.9 141.6h3.6v3.6h-3.6zM625.0 141.6h3.6v3.6h-3.6zM629.1 141.6h3.6v3.6h-3.6zM633.2 141.6h3.6v3.6h-3.6zM637.3 141.6h3.6v3.6h-3.6zM641.4 141.6h3.6v3.6h-3.6zM645.5 141.6h3.6v3.6h-3.6zM649.6 141.6h3.6v3.6h-3.6zM653.7 141.6h3.6v3.6h-3.6zM657.8 141.6h3.6v3.6h-3.6zM661.9 141.6h3.6v3.6h-3.6zM666.0 141.6h3.6v3.6h-3.6z" fill="#1428e0"/>
<path d="M376.7 145.7L445.0 145.4L448.1 143.9L450.5 124.5L451.4 94.3L452.2 72.9L453.4 39.0L455.0 42.9L456.0 45.4L456.8 77.9L457.6 89.5L459.8 94.8L462.5 87.4L463.1 84.8L464.4 88.1L465.5 94.2L467.1 102.2L468.6 111.8L471.0 120.3L473.4 124.3L475.7 111.8L477.3 100.7L479.7 103.8L481.3 111.8L484.4 122.7L486.8 111.8L489.1 92.7L490.7 87.4L493.1 95.9L494.5 106.5L496.3 112.8L499.1 111.8L501.8 113.6L504.5 122.7L508.1 128.1L510.8 135.3L513.6 140.7L517.2 139.8L520.8 137.0L523.5 132.6L526.2 133.5L529.9 135.3L533.5 137.0L537.1 136.2L538.9 126.2L541.6 113.6L545.3 110.0L548.0 114.5L551.7 121.4L554.2 126.3L557.2 125.1L560.3 127.5L563.4 130.5L565.8 137.9L568.3 142.2L571.9 144.0L580.0 145.2L668.0 145.5" stroke="#f3a41e" stroke-width="1.9" fill="none" stroke-linejoin="round"/>
<path d="M374.7 145.7a2.0 2.0 0 1 0 4.0 0a2.0 2.0 0 1 0 -4.0 0zM377.9 145.7a2.0 2.0 0 1 0 4.0 0a2.0 2.0 0 1 0 -4.0 0zM381.1 145.7a2.0 2.0 0 1 0 4.0 0a2.0 2.0 0 1 0 -4.0 0zM384.3 145.7a2.0 2.0 0 1 0 4.0 0a2.0 2.0 0 1 0 -4.0 0zM387.5 145.6a2.0 2.0 0 1 0 4.0 0a2.0 2.0 0 1 0 -4.0 0zM390.7 145.6a2.0 2.0 0 1 0 4.0 0a2.0 2.0 0 1 0 -4.0 0zM393.9 145.6a2.0 2.0 0 1 0 4.0 0a2.0 2.0 0 1 0 -4.0 0zM397.1 145.6a2.0 2.0 0 1 0 4.0 0a2.0 2.0 0 1 0 -4.0 0zM400.3 145.6a2.0 2.0 0 1 0 4.0 0a2.0 2.0 0 1 0 -4.0 0zM403.5 145.6a2.0 2.0 0 1 0 4.0 0a2.0 2.0 0 1 0 -4.0 0zM406.7 145.6a2.0 2.0 0 1 0 4.0 0a2.0 2.0 0 1 0 -4.0 0zM409.9 145.5a2.0 2.0 0 1 0 4.0 0a2.0 2.0 0 1 0 -4.0 0zM413.1 145.5a2.0 2.0 0 1 0 4.0 0a2.0 2.0 0 1 0 -4.0 0zM416.3 145.5a2.0 2.0 0 1 0 4.0 0a2.0 2.0 0 1 0 -4.0 0zM419.5 145.5a2.0 2.0 0 1 0 4.0 0a2.0 2.0 0 1 0 -4.0 0zM422.7 145.5a2.0 2.0 0 1 0 4.0 0a2.0 2.0 0 1 0 -4.0 0zM425.9 145.5a2.0 2.0 0 1 0 4.0 0a2.0 2.0 0 1 0 -4.0 0zM429.1 145.4a2.0 2.0 0 1 0 4.0 0a2.0 2.0 0 1 0 -4.0 0zM432.3 145.4a2.0 2.0 0 1 0 4.0 0a2.0 2.0 0 1 0 -4.0 0zM435.5 145.4a2.0 2.0 0 1 0 4.0 0a2.0 2.0 0 1 0 -4.0 0zM438.7 145.4a2.0 2.0 0 1 0 4.0 0a2.0 2.0 0 1 0 -4.0 0zM443.0 145.4a2.0 2.0 0 1 0 4.0 0a2.0 2.0 0 1 0 -4.0 0zM446.1 143.9a2.0 2.0 0 1 0 4.0 0a2.0 2.0 0 1 0 -4.0 0zM448.5 124.5a2.0 2.0 0 1 0 4.0 0a2.0 2.0 0 1 0 -4.0 0zM449.4 94.3a2.0 2.0 0 1 0 4.0 0a2.0 2.0 0 1 0 -4.0 0zM450.2 72.9a2.0 2.0 0 1 0 4.0 0a2.0 2.0 0 1 0 -4.0 0zM451.4 39.0a2.0 2.0 0 1 0 4.0 0a2.0 2.0 0 1 0 -4.0 0zM453.0 42.9a2.0 2.0 0 1 0 4.0 0a2.0 2.0 0 1 0 -4.0 0zM454.0 45.4a2.0 2.0 0 1 0 4.0 0a2.0 2.0 0 1 0 -4.0 0zM454.8 77.9a2.0 2.0 0 1 0 4.0 0a2.0 2.0 0 1 0 -4.0 0zM455.6 89.5a2.0 2.0 0 1 0 4.0 0a2.0 2.0 0 1 0 -4.0 0zM457.8 94.8a2.0 2.0 0 1 0 4.0 0a2.0 2.0 0 1 0 -4.0 0zM460.5 87.4a2.0 2.0 0 1 0 4.0 0a2.0 2.0 0 1 0 -4.0 0zM461.1 84.8a2.0 2.0 0 1 0 4.0 0a2.0 2.0 0 1 0 -4.0 0zM462.4 88.1a2.0 2.0 0 1 0 4.0 0a2.0 2.0 0 1 0 -4.0 0zM463.5 94.2a2.0 2.0 0 1 0 4.0 0a2.0 2.0 0 1 0 -4.0 0zM465.1 102.2a2.0 2.0 0 1 0 4.0 0a2.0 2.0 0 1 0 -4.0 0zM466.6 111.8a2.0 2.0 0 1 0 4.0 0a2.0 2.0 0 1 0 -4.0 0zM469.0 120.3a2.0 2.0 0 1 0 4.0 0a2.0 2.0 0 1 0 -4.0 0zM471.4 124.3a2.0 2.0 0 1 0 4.0 0a2.0 2.0 0 1 0 -4.0 0zM473.7 111.8a2.0 2.0 0 1 0 4.0 0a2.0 2.0 0 1 0 -4.0 0zM475.3 100.7a2.0 2.0 0 1 0 4.0 0a2.0 2.0 0 1 0 -4.0 0zM477.7 103.8a2.0 2.0 0 1 0 4.0 0a2.0 2.0 0 1 0 -4.0 0zM479.3 111.8a2.0 2.0 0 1 0 4.0 0a2.0 2.0 0 1 0 -4.0 0zM482.4 122.7a2.0 2.0 0 1 0 4.0 0a2.0 2.0 0 1 0 -4.0 0zM484.8 111.8a2.0 2.0 0 1 0 4.0 0a2.0 2.0 0 1 0 -4.0 0zM487.1 92.7a2.0 2.0 0 1 0 4.0 0a2.0 2.0 0 1 0 -4.0 0zM488.7 87.4a2.0 2.0 0 1 0 4.0 0a2.0 2.0 0 1 0 -4.0 0zM491.1 95.9a2.0 2.0 0 1 0 4.0 0a2.0 2.0 0 1 0 -4.0 0zM492.5 106.5a2.0 2.0 0 1 0 4.0 0a2.0 2.0 0 1 0 -4.0 0zM494.3 112.8a2.0 2.0 0 1 0 4.0 0a2.0 2.0 0 1 0 -4.0 0zM497.1 111.8a2.0 2.0 0 1 0 4.0 0a2.0 2.0 0 1 0 -4.0 0zM499.8 113.6a2.0 2.0 0 1 0 4.0 0a2.0 2.0 0 1 0 -4.0 0zM502.5 122.7a2.0 2.0 0 1 0 4.0 0a2.0 2.0 0 1 0 -4.0 0zM506.1 128.1a2.0 2.0 0 1 0 4.0 0a2.0 2.0 0 1 0 -4.0 0zM508.8 135.3a2.0 2.0 0 1 0 4.0 0a2.0 2.0 0 1 0 -4.0 0zM511.6 140.7a2.0 2.0 0 1 0 4.0 0a2.0 2.0 0 1 0 -4.0 0zM515.2 139.8a2.0 2.0 0 1 0 4.0 0a2.0 2.0 0 1 0 -4.0 0zM518.8 137.0a2.0 2.0 0 1 0 4.0 0a2.0 2.0 0 1 0 -4.0 0zM521.5 132.6a2.0 2.0 0 1 0 4.0 0a2.0 2.0 0 1 0 -4.0 0zM524.2 133.5a2.0 2.0 0 1 0 4.0 0a2.0 2.0 0 1 0 -4.0 0zM527.9 135.3a2.0 2.0 0 1 0 4.0 0a2.0 2.0 0 1 0 -4.0 0zM531.5 137.0a2.0 2.0 0 1 0 4.0 0a2.0 2.0 0 1 0 -4.0 0zM535.1 136.2a2.0 2.0 0 1 0 4.0 0a2.0 2.0 0 1 0 -4.0 0zM536.9 126.2a2.0 2.0 0 1 0 4.0 0a2.0 2.0 0 1 0 -4.0 0zM539.6 113.6a2.0 2.0 0 1 0 4.0 0a2.0 2.0 0 1 0 -4.0 0zM543.3 110.0a2.0 2.0 0 1 0 4.0 0a2.0 2.0 0 1 0 -4.0 0zM546.0 114.5a2.0 2.0 0 1 0 4.0 0a2.0 2.0 0 1 0 -4.0 0zM549.7 121.4a2.0 2.0 0 1 0 4.0 0a2.0 2.0 0 1 0 -4.0 0zM552.2 126.3a2.0 2.0 0 1 0 4.0 0a2.0 2.0 0 1 0 -4.0 0zM555.2 125.1a2.0 2.0 0 1 0 4.0 0a2.0 2.0 0 1 0 -4.0 0zM558.3 127.5a2.0 2.0 0 1 0 4.0 0a2.0 2.0 0 1 0 -4.0 0zM561.4 130.5a2.0 2.0 0 1 0 4.0 0a2.0 2.0 0 1 0 -4.0 0zM563.8 137.9a2.0 2.0 0 1 0 4.0 0a2.0 2.0 0 1 0 -4.0 0zM566.3 142.2a2.0 2.0 0 1 0 4.0 0a2.0 2.0 0 1 0 -4.0 0zM569.9 144.0a2.0 2.0 0 1 0 4.0 0a2.0 2.0 0 1 0 -4.0 0zM573.1 144.5a2.0 2.0 0 1 0 4.0 0a2.0 2.0 0 1 0 -4.0 0zM578.0 145.2a2.0 2.0 0 1 0 4.0 0a2.0 2.0 0 1 0 -4.0 0zM582.7 145.2a2.0 2.0 0 1 0 4.0 0a2.0 2.0 0 1 0 -4.0 0zM585.9 145.2a2.0 2.0 0 1 0 4.0 0a2.0 2.0 0 1 0 -4.0 0zM589.1 145.2a2.0 2.0 0 1 0 4.0 0a2.0 2.0 0 1 0 -4.0 0zM592.3 145.2a2.0 2.0 0 1 0 4.0 0a2.0 2.0 0 1 0 -4.0 0zM595.5 145.2a2.0 2.0 0 1 0 4.0 0a2.0 2.0 0 1 0 -4.0 0zM598.7 145.2a2.0 2.0 0 1 0 4.0 0a2.0 2.0 0 1 0 -4.0 0zM601.9 145.3a2.0 2.0 0 1 0 4.0 0a2.0 2.0 0 1 0 -4.0 0zM605.1 145.3a2.0 2.0 0 1 0 4.0 0a2.0 2.0 0 1 0 -4.0 0zM608.3 145.3a2.0 2.0 0 1 0 4.0 0a2.0 2.0 0 1 0 -4.0 0zM611.5 145.3a2.0 2.0 0 1 0 4.0 0a2.0 2.0 0 1 0 -4.0 0zM614.7 145.3a2.0 2.0 0 1 0 4.0 0a2.0 2.0 0 1 0 -4.0 0zM617.9 145.3a2.0 2.0 0 1 0 4.0 0a2.0 2.0 0 1 0 -4.0 0zM621.1 145.3a2.0 2.0 0 1 0 4.0 0a2.0 2.0 0 1 0 -4.0 0zM624.3 145.3a2.0 2.0 0 1 0 4.0 0a2.0 2.0 0 1 0 -4.0 0zM627.5 145.3a2.0 2.0 0 1 0 4.0 0a2.0 2.0 0 1 0 -4.0 0zM630.7 145.4a2.0 2.0 0 1 0 4.0 0a2.0 2.0 0 1 0 -4.0 0zM633.9 145.4a2.0 2.0 0 1 0 4.0 0a2.0 2.0 0 1 0 -4.0 0zM637.1 145.4a2.0 2.0 0 1 0 4.0 0a2.0 2.0 0 1 0 -4.0 0zM640.3 145.4a2.0 2.0 0 1 0 4.0 0a2.0 2.0 0 1 0 -4.0 0zM643.5 145.4a2.0 2.0 0 1 0 4.0 0a2.0 2.0 0 1 0 -4.0 0zM646.7 145.4a2.0 2.0 0 1 0 4.0 0a2.0 2.0 0 1 0 -4.0 0zM649.9 145.4a2.0 2.0 0 1 0 4.0 0a2.0 2.0 0 1 0 -4.0 0zM653.1 145.4a2.0 2.0 0 1 0 4.0 0a2.0 2.0 0 1 0 -4.0 0zM656.3 145.5a2.0 2.0 0 1 0 4.0 0a2.0 2.0 0 1 0 -4.0 0zM659.5 145.5a2.0 2.0 0 1 0 4.0 0a2.0 2.0 0 1 0 -4.0 0zM662.7 145.5a2.0 2.0 0 1 0 4.0 0a2.0 2.0 0 1 0 -4.0 0zM665.9 145.5a2.0 2.0 0 1 0 4.0 0a2.0 2.0 0 1 0 -4.0 0z" fill="#f3a41e"/>
<path d="M376.7 145.7L420.0 145.2L430.0 143.0L439.5 142.5L445.0 138.3L448.1 130.9L450.5 119.2L452.9 113.2L455.2 116.4L457.6 124.3L460.0 126.6L463.1 119.2L466.3 110.0L469.4 104.5L472.6 107.6L475.7 113.2L478.9 119.2L482.0 123.4L485.2 127.4L488.4 129.0L491.5 130.5L494.5 126.6L499.1 117.2L503.6 113.6L508.1 112.6L512.6 110.8L516.3 109.0L519.0 115.4L521.7 122.6L525.3 128.1L529.9 129.1L534.4 128.1L538.9 129.9L544.3 130.9L549.8 133.0L553.0 134.3L557.2 130.5L560.9 131.7L564.6 135.4L568.3 137.9L573.2 137.3L579.3 136.1L585.4 136.7L591.5 137.9L597.6 139.1L603.8 140.3L610.0 140.8L615.0 142.5L630.0 144.2L668.0 144.9" stroke="#2ee6e6" stroke-width="2.4" fill="none" stroke-linejoin="round"/>
<path d="M376.7 143.5l2.0 3.8h-4.0zM379.4 143.5l2.0 3.8h-4.0zM382.1 143.4l2.0 3.8h-4.0zM384.8 143.4l2.0 3.8h-4.0zM387.5 143.4l2.0 3.8h-4.0zM390.2 143.3l2.0 3.8h-4.0zM392.9 143.3l2.0 3.8h-4.0zM395.6 143.3l2.0 3.8h-4.0zM398.3 143.2l2.0 3.8h-4.0zM401.0 143.2l2.0 3.8h-4.0zM403.7 143.2l2.0 3.8h-4.0zM406.4 143.1l2.0 3.8h-4.0zM409.1 143.1l2.0 3.8h-4.0zM411.8 143.1l2.0 3.8h-4.0zM414.5 143.0l2.0 3.8h-4.0zM417.2 143.0l2.0 3.8h-4.0zM420.0 143.0l2.0 3.8h-4.0zM422.6 142.4l2.0 3.8h-4.0zM425.3 141.8l2.0 3.8h-4.0zM428.0 141.3l2.0 3.8h-4.0zM430.0 140.8l2.0 3.8h-4.0zM433.4 140.7l2.0 3.8h-4.0zM436.1 140.5l2.0 3.8h-4.0zM439.5 140.3l2.0 3.8h-4.0zM441.5 138.8l2.0 3.8h-4.0zM445.0 136.1l2.0 3.8h-4.0zM448.1 128.7l2.0 3.8h-4.0zM450.5 117.0l2.0 3.8h-4.0zM452.9 111.0l2.0 3.8h-4.0zM455.2 114.2l2.0 3.8h-4.0zM457.6 122.1l2.0 3.8h-4.0zM460.0 124.4l2.0 3.8h-4.0zM463.1 117.0l2.0 3.8h-4.0zM466.3 107.8l2.0 3.8h-4.0zM469.4 102.3l2.0 3.8h-4.0zM472.6 105.4l2.0 3.8h-4.0zM475.7 111.0l2.0 3.8h-4.0zM478.9 117.0l2.0 3.8h-4.0zM482.0 121.2l2.0 3.8h-4.0zM485.2 125.2l2.0 3.8h-4.0zM488.4 126.8l2.0 3.8h-4.0zM491.5 128.3l2.0 3.8h-4.0zM494.5 124.4l2.0 3.8h-4.0zM499.1 115.0l2.0 3.8h-4.0zM500.9 113.5l2.0 3.8h-4.0zM503.6 111.4l2.0 3.8h-4.0zM506.3 110.8l2.0 3.8h-4.0zM508.1 110.4l2.0 3.8h-4.0zM512.6 108.6l2.0 3.8h-4.0zM514.4 107.7l2.0 3.8h-4.0zM516.3 106.8l2.0 3.8h-4.0zM519.0 113.2l2.0 3.8h-4.0zM521.7 120.4l2.0 3.8h-4.0zM525.3 125.9l2.0 3.8h-4.0zM527.9 126.4l2.0 3.8h-4.0zM529.9 126.9l2.0 3.8h-4.0zM534.4 125.9l2.0 3.8h-4.0zM538.9 127.7l2.0 3.8h-4.0zM541.4 128.1l2.0 3.8h-4.0zM544.3 128.7l2.0 3.8h-4.0zM546.8 129.6l2.0 3.8h-4.0zM549.8 130.8l2.0 3.8h-4.0zM553.0 132.1l2.0 3.8h-4.0zM554.9 130.4l2.0 3.8h-4.0zM557.2 128.3l2.0 3.8h-4.0zM560.9 129.5l2.0 3.8h-4.0zM564.6 133.2l2.0 3.8h-4.0zM568.3 135.7l2.0 3.8h-4.0zM571.1 135.4l2.0 3.8h-4.0zM573.2 135.1l2.0 3.8h-4.0zM576.5 134.4l2.0 3.8h-4.0zM579.3 133.9l2.0 3.8h-4.0zM581.9 134.1l2.0 3.8h-4.0zM585.4 134.5l2.0 3.8h-4.0zM587.3 134.9l2.0 3.8h-4.0zM591.5 135.7l2.0 3.8h-4.0zM595.4 136.5l2.0 3.8h-4.0zM597.6 136.9l2.0 3.8h-4.0zM600.8 137.5l2.0 3.8h-4.0zM603.8 138.1l2.0 3.8h-4.0zM606.2 138.3l2.0 3.8h-4.0zM610.0 138.6l2.0 3.8h-4.0zM615.0 140.3l2.0 3.8h-4.0zM617.0 140.5l2.0 3.8h-4.0zM619.7 140.9l2.0 3.8h-4.0zM622.4 141.2l2.0 3.8h-4.0zM625.1 141.5l2.0 3.8h-4.0zM627.8 141.8l2.0 3.8h-4.0zM630.0 142.0l2.0 3.8h-4.0zM633.2 142.1l2.0 3.8h-4.0zM635.9 142.1l2.0 3.8h-4.0zM638.6 142.2l2.0 3.8h-4.0zM641.3 142.2l2.0 3.8h-4.0zM644.0 142.3l2.0 3.8h-4.0zM646.7 142.3l2.0 3.8h-4.0zM649.4 142.3l2.0 3.8h-4.0zM652.1 142.4l2.0 3.8h-4.0zM654.8 142.4l2.0 3.8h-4.0zM657.5 142.5l2.0 3.8h-4.0zM660.2 142.5l2.0 3.8h-4.0zM662.9 142.6l2.0 3.8h-4.0zM665.6 142.6l2.0 3.8h-4.0z" fill="#2ee6e6"/>
<path d="M35.6 361.9L153.0 361.9L155.8 356.6L159.5 351.8L162.4 334.0L165.2 297.2L166.7 285.6L167.6 271.3L169.1 241.2L170.5 245.3L171.2 236.3L171.9 243.9L172.3 258.8L173.3 244.2L175.4 242.1L176.8 251.7L178.2 273.5L178.8 287.7L179.9 327.4L183.1 343.3L185.0 352.8L186.9 360.3L189.0 361.9L326.7 361.9" stroke="#e8141c" stroke-width="1.7" fill="none" stroke-linejoin="round"/>
<path d="M33.2 361.9h4.8M35.6 359.5v4.8M33.2 359.5l4.8 4.8M38.0 359.5l-4.8 4.8M36.1 361.9h4.8M38.5 359.5v4.8M36.1 359.5l4.8 4.8M40.9 359.5l-4.8 4.8M39.0 361.9h4.8M41.4 359.5v4.8M39.0 359.5l4.8 4.8M43.8 359.5l-4.8 4.8M41.9 361.9h4.8M44.3 359.5v4.8M41.9 359.5l4.8 4.8M46.7 359.5l-4.8 4.8M44.8 361.9h4.8M47.2 359.5v4.8M44.8 359.5l4.8 4.8M49.6 359.5l-4.8 4.8M47.8 361.9h4.8M50.2 359.5v4.8M47.8 359.5l4.8 4.8M52.6 359.5l-4.8 4.8M50.7 361.9h4.8M53.1 359.5v4.8M50.7 359.5l4.8 4.8M55.5 359.5l-4.8 4.8M53.6 361.9h4.8M56.0 359.5v4.8M53.6 359.5l4.8 4.8M58.4 359.5l-4.8 4.8M56.5 361.9h4.8M58.9 359.5v4.8M56.5 359.5l4.8 4.8M61.3 359.5l-4.8 4.8M59.4 361.9h4.8M61.8 359.5v4.8M59.4 359.5l4.8 4.8M64.2 359.5l-4.8 4.8M62.3 361.9h4.8M64.7 359.5v4.8M62.3 359.5l4.8 4.8M67.1 359.5l-4.8 4.8M65.2 361.9h4.8M67.6 359.5v4.8M65.2 359.5l4.8 4.8M70.0 359.5l-4.8 4.8M68.1 361.9h4.8M70.5 359.5v4.8M68.1 359.5l4.8 4.8M72.9 359.5l-4.8 4.8M71.0 361.9h4.8M73.4 359.5v4.8M71.0 359.5l4.8 4.8M75.8 359.5l-4.8 4.8M73.9 361.9h4.8M76.3 359.5v4.8M73.9 359.5l4.8 4.8M78.7 359.5l-4.8 4.8M76.8 361.9h4.8M79.2 359.5v4.8M76.8 359.5l4.8 4.8M81.7 359.5l-4.8 4.8M79.8 361.9h4.8M82.2 359.5v4.8M79.8 359.5l4.8 4.8M84.6 359.5l-4.8 4.8M82.7 361.9h4.8M85.1 359.5v4.8M82.7 359.5l4.8 4.8M87.5 359.5l-4.8 4.8M85.6 361.9h4.8M88.0 359.5v4.8M85.6 359.5l4.8 4.8M90.4 359.5l-4.8 4.8M88.5 361.9h4.8M90.9 359.5v4.8M88.5 359.5l4.8 4.8M93.3 359.5l-4.8 4.8M91.4 361.9h4.8M93.8 359.5v4.8M91.4 359.5l4.8 4.8M96.2 359.5l-4.8 4.8M94.3 361.9h4.8M96.7 359.5v4.8M94.3 359.5l4.8 4.8M99.1 359.5l-4.8 4.8M97.2 361.9h4.8M99.6 359.5v4.8M97.2 359.5l4.8 4.8M102.0 359.5l-4.8 4.8M100.1 361.9h4.8M102.5 359.5v4.8M100.1 359.5l4.8 4.8M104.9 359.5l-4.8 4.8M103.0 361.9h4.8M105.4 359.5v4.8M103.0 359.5l4.8 4.8M107.8 359.5l-4.8 4.8M105.9 361.9h4.8M108.3 359.5v4.8M105.9 359.5l4.8 4.8M110.8 359.5l-4.8 4.8M108.9 361.9h4.8M111.3 359.5v4.8M108.9 359.5l4.8 4.8M113.7 359.5l-4.8 4.8M111.8 361.9h4.8M114.2 359.5v4.8M111.8 359.5l4.8 4.8M116.6 359.5l-4.8 4.8M114.7 361.9h4.8M117.1 359.5v4.8M114.7 359.5l4.8 4.8M119.5 359.5l-4.8 4.8M117.6 361.9h4.8M120.0 359.5v4.8M117.6 359.5l4.8 4.8M122.4 359.5l-4.8 4.8M120.5 361.9h4.8M122.9 359.5v4.8M120.5 359.5l4.8 4.8M125.3 359.5l-4.8 4.8M123.4 361.9h4.8M125.8 359.5v4.8M123.4 359.5l4.8 4.8M128.2 359.5l-4.8 4.8M126.3 361.9h4.8M128.7 359.5v4.8M126.3 359.5l4.8 4.8M131.1 359.5l-4.8 4.8M129.2 361.9h4.8M131.6 359.5v4.8M129.2 359.5l4.8 4.8M134.0 359.5l-4.8 4.8M132.1 361.9h4.8M134.5 359.5v4.8M132.1 359.5l4.8 4.8M136.9 359.5l-4.8 4.8M135.1 361.9h4.8M137.5 359.5v4.8M135.1 359.5l4.8 4.8M139.9 359.5l-4.8 4.8M138.0 361.9h4.8M140.4 359.5v4.8M138.0 359.5l4.8 4.8M142.8 359.5l-4.8 4.8M140.9 361.9h4.8M143.3 359.5v4.8M140.9 359.5l4.8 4.8M145.7 359.5l-4.8 4.8M143.8 361.9h4.8M146.2 359.5v4.8M143.8 359.5l4.8 4.8M148.6 359.5l-4.8 4.8M146.7 361.9h4.8M149.1 359.5v4.8M146.7 359.5l4.8 4.8M151.5 359.5l-4.8 4.8M149.6 361.9h4.8M152.0 359.5v4.8M149.6 359.5l4.8 4.8M154.4 359.5l-4.8 4.8M152.5 358.3h4.8M154.9 355.9v4.8M152.5 355.9l4.8 4.8M157.3 355.9l-4.8 4.8M155.4 354.0h4.8M157.8 351.6v4.8M155.4 351.6l4.8 4.8M160.2 351.6l-4.8 4.8M158.3 344.3h4.8M160.7 341.9v4.8M158.3 341.9l4.8 4.8M163.1 341.9l-4.8 4.8M161.2 317.7h4.8M163.6 315.3v4.8M161.2 315.3l4.8 4.8M166.0 315.3l-4.8 4.8M164.2 286.7h4.8M166.6 284.3v4.8M164.2 284.3l4.8 4.8M169.0 284.3l-4.8 4.8M167.1 242.2h4.8M169.5 239.8v4.8M167.1 239.8l4.8 4.8M171.9 239.8l-4.8 4.8M170.0 257.7h4.8M172.4 255.3v4.8M170.0 255.3l4.8 4.8M174.8 255.3l-4.8 4.8M172.9 242.2h4.8M175.3 239.8v4.8M172.9 239.8l4.8 4.8M177.7 239.8l-4.8 4.8M175.8 273.3h4.8M178.2 270.9v4.8M175.8 270.9l4.8 4.8M180.6 270.9l-4.8 4.8M178.7 333.4h4.8M181.1 331.0v4.8M178.7 331.0l4.8 4.8M183.5 331.0l-4.8 4.8M181.6 347.9h4.8M184.0 345.5v4.8M181.6 345.5l4.8 4.8M186.4 345.5l-4.8 4.8M184.5 360.3h4.8M186.9 357.9v4.8M184.5 357.9l4.8 4.8M189.3 357.9l-4.8 4.8M187.4 361.9h4.8M189.8 359.5v4.8M187.4 359.5l4.8 4.8M192.2 359.5l-4.8 4.8M190.3 361.9h4.8M192.7 359.5v4.8M190.3 359.5l4.8 4.8M195.1 359.5l-4.8 4.8M193.2 361.9h4.8M195.7 359.5v4.8M193.2 359.5l4.8 4.8M198.1 359.5l-4.8 4.8M196.2 361.9h4.8M198.6 359.5v4.8M196.2 359.5l4.8 4.8M201.0 359.5l-4.8 4.8M199.1 361.9h4.8M201.5 359.5v4.8M199.1 359.5l4.8 4.8M203.9 359.5l-4.8 4.8M202.0 361.9h4.8M204.4 359.5v4.8M202.0 359.5l4.8 4.8M206.8 359.5l-4.8 4.8M204.9 361.9h4.8M207.3 359.5v4.8M204.9 359.5l4.8 4.8M209.7 359.5l-4.8 4.8M207.8 361.9h4.8M210.2 359.5v4.8M207.8 359.5l4.8 4.8M212.6 359.5l-4.8 4.8M210.7 361.9h4.8M213.1 359.5v4.8M210.7 359.5l4.8 4.8M215.5 359.5l-4.8 4.8M213.6 361.9h4.8M216.0 359.5v4.8M213.6 359.5l4.8 4.8M218.4 359.5l-4.8 4.8M216.5 361.9h4.8M218.9 359.5v4.8M216.5 359.5l4.8 4.8M221.3 359.5l-4.8 4.8M219.4 361.9h4.8M221.8 359.5v4.8M219.4 359.5l4.8 4.8M224.2 359.5l-4.8 4.8M222.3 361.9h4.8M224.8 359.5v4.8M222.3 359.5l4.8 4.8M227.2 359.5l-4.8 4.8M225.3 361.9h4.8M227.7 359.5v4.8M225.3 359.5l4.8 4.8M230.1 359.5l-4.8 4.8M228.2 361.9h4.8M230.6 359.5v4.8M228.2 359.5l4.8 4.8M233.0 359.5l-4.8 4.8M231.1 361.9h4.8M233.5 359.5v4.8M231.1 359.5l4.8 4.8M235.9 359.5l-4.8 4.8M234.0 361.9h4.8M236.4 359.5v4.8M234.0 359.5l4.8 4.8M238.8 359.5l-4.8 4.8M236.9 361.9h4.8M239.3 359.5v4.8M236.9 359.5l4.8 4.8M241.7 359.5l-4.8 4.8M239.8 361.9h4.8M242.2 359.5v4.8M239.8 359.5l4.8 4.8M244.6 359.5l-4.8 4.8M242.7 361.9h4.8M245.1 359.5v4.8M242.7 359.5l4.8 4.8M247.5 359.5l-4.8 4.8M245.6 361.9h4.8M248.0 359.5v4.8M245.6 359.5l4.8 4.8M250.4 359.5l-4.8 4.8M248.5 361.9h4.8M250.9 359.5v4.8M248.5 359.5l4.8 4.8M253.3 359.5l-4.8 4.8M251.4 361.9h4.8M253.8 359.5v4.8M251.4 359.5l4.8 4.8M256.2 359.5l-4.8 4.8M254.4 361.9h4.8M256.8 359.5v4.8M254.4 359.5l4.8 4.8M259.2 359.5l-4.8 4.8M257.3 361.9h4.8M259.7 359.5v4.8M257.3 359.5l4.8 4.8M262.1 359.5l-4.8 4.8M260.2 361.9h4.8M262.6 359.5v4.8M260.2 359.5l4.8 4.8M265.0 359.5l-4.8 4.8M263.1 361.9h4.8M265.5 359.5v4.8M263.1 359.5l4.8 4.8M267.9 359.5l-4.8 4.8M266.0 361.9h4.8M268.4 359.5v4.8M266.0 359.5l4.8 4.8M270.8 359.5l-4.8 4.8M268.9 361.9h4.8M271.3 359.5v4.8M268.9 359.5l4.8 4.8M273.7 359.5l-4.8 4.8M271.8 361.9h4.8M274.2 359.5v4.8M271.8 359.5l4.8 4.8M276.6 359.5l-4.8 4.8M274.7 361.9h4.8M277.1 359.5v4.8M274.7 359.5l4.8 4.8M279.5 359.5l-4.8 4.8M277.6 361.9h4.8M280.0 359.5v4.8M277.6 359.5l4.8 4.8M282.4 359.5l-4.8 4.8M280.6 361.9h4.8M283.0 359.5v4.8M280.6 359.5l4.8 4.8M285.4 359.5l-4.8 4.8M283.5 361.9h4.8M285.9 359.5v4.8M283.5 359.5l4.8 4.8M288.3 359.5l-4.8 4.8M286.4 361.9h4.8M288.8 359.5v4.8M286.4 359.5l4.8 4.8M291.2 359.5l-4.8 4.8M289.3 361.9h4.8M291.7 359.5v4.8M289.3 359.5l4.8 4.8M294.1 359.5l-4.8 4.8M292.2 361.9h4.8M294.6 359.5v4.8M292.2 359.5l4.8 4.8M297.0 359.5l-4.8 4.8M295.1 361.9h4.8M297.5 359.5v4.8M295.1 359.5l4.8 4.8M299.9 359.5l-4.8 4.8M298.0 361.9h4.8M300.4 359.5v4.8M298.0 359.5l4.8 4.8M302.8 359.5l-4.8 4.8M300.9 361.9h4.8M303.3 359.5v4.8M300.9 359.5l4.8 4.8M305.7 359.5l-4.8 4.8M303.8 361.9h4.8M306.2 359.5v4.8M303.8 359.5l4.8 4.8M308.6 359.5l-4.8 4.8M306.7 361.9h4.8M309.1 359.5v4.8M306.7 359.5l4.8 4.8M311.5 359.5l-4.8 4.8M309.7 361.9h4.8M312.1 359.5v4.8M309.7 359.5l4.8 4.8M314.4 359.5l-4.8 4.8M312.6 361.9h4.8M315.0 359.5v4.8M312.6 359.5l4.8 4.8M317.4 359.5l-4.8 4.8M315.5 361.9h4.8M317.9 359.5v4.8M315.5 359.5l4.8 4.8M320.3 359.5l-4.8 4.8M318.4 361.9h4.8M320.8 359.5v4.8M318.4 359.5l4.8 4.8M323.2 359.5l-4.8 4.8M321.3 361.9h4.8M323.7 359.5v4.8M321.3 359.5l4.8 4.8M326.1 359.5l-4.8 4.8M324.2 361.9h4.8M326.6 359.5v4.8M324.2 359.5l4.8 4.8M329.0 359.5l-4.8 4.8" stroke="#e8141c" stroke-width="1.0" fill="none"/>
<path d="M35.6 361.9L118.9 361.9L121.9 356.6L124.2 348.9L127.3 343.6L129.4 345.4L133.2 341.5L137.9 334.0L142.6 326.4L147.3 326.4L152.0 323.7L156.7 325.5L159.5 334.0L162.4 339.6L166.1 344.3L170.8 346.2L175.6 347.1L180.3 347.1L185.0 346.2L190.6 349.0L194.7 350.2L200.6 347.9L206.5 349.2L212.4 352.0L218.2 353.2L224.1 354.4L230.0 355.5L235.9 356.8L241.8 357.9L247.6 357.9L253.5 358.5L260.0 359.1L270.0 358.8L290.0 358.8L310.0 360.4L326.7 361.1" stroke="#1428e0" stroke-width="2.4" fill="none" stroke-linejoin="round"/>
<path d="M33.6 359.9h4.0v4.0h-4.0zM36.9 359.9h4.0v4.0h-4.0zM40.2 359.9h4.0v4.0h-4.0zM43.5 359.9h4.0v4.0h-4.0zM46.8 359.9h4.0v4.0h-4.0zM50.1 359.9h4.0v4.0h-4.0zM53.4 359.9h4.0v4.0h-4.0zM56.7 359.9h4.0v4.0h-4.0zM60.0 359.9h4.0v4.0h-4.0zM63.3 359.9h4.0v4.0h-4.0zM66.6 359.9h4.0v4.0h-4.0zM69.9 359.9h4.0v4.0h-4.0zM73.2 359.9h4.0v4.0h-4.0zM76.5 359.9h4.0v4.0h-4.0zM79.8 359.9h4.0v4.0h-4.0zM83.1 359.9h4.0v4.0h-4.0zM86.4 359.9h4.0v4.0h-4.0zM89.7 359.9h4.0v4.0h-4.0zM93.0 359.9h4.0v4.0h-4.0zM96.3 359.9h4.0v4.0h-4.0zM99.6 359.9h4.0v4.0h-4.0zM102.9 359.9h4.0v4.0h-4.0zM106.2 359.9h4.0v4.0h-4.0zM109.5 359.9h4.0v4.0h-4.0zM112.8 359.9h4.0v4.0h-4.0zM116.1 359.9h4.0v4.0h-4.0zM119.4 355.5h4.0v4.0h-4.0zM122.7 346.0h4.0v4.0h-4.0zM126.0 342.2h4.0v4.0h-4.0zM129.3 341.5h4.0v4.0h-4.0zM132.6 337.3h4.0v4.0h-4.0zM135.9 332.0h4.0v4.0h-4.0zM139.2 326.7h4.0v4.0h-4.0zM142.5 324.4h4.0v4.0h-4.0zM145.8 324.1h4.0v4.0h-4.0zM149.1 322.2h4.0v4.0h-4.0zM152.4 322.7h4.0v4.0h-4.0zM155.7 326.6h4.0v4.0h-4.0zM159.0 334.9h4.0v4.0h-4.0zM162.3 340.0h4.0v4.0h-4.0zM165.6 342.9h4.0v4.0h-4.0zM168.9 344.2h4.0v4.0h-4.0zM172.2 344.8h4.0v4.0h-4.0zM175.5 345.1h4.0v4.0h-4.0zM178.8 345.0h4.0v4.0h-4.0zM182.1 344.4h4.0v4.0h-4.0zM185.4 345.4h4.0v4.0h-4.0zM188.7 347.0h4.0v4.0h-4.0zM192.0 348.0h4.0v4.0h-4.0zM195.3 347.2h4.0v4.0h-4.0zM198.6 345.9h4.0v4.0h-4.0zM201.9 346.6h4.0v4.0h-4.0zM205.2 347.5h4.0v4.0h-4.0zM208.5 349.1h4.0v4.0h-4.0zM211.8 350.3h4.0v4.0h-4.0zM215.1 351.0h4.0v4.0h-4.0zM218.4 351.6h4.0v4.0h-4.0zM221.7 352.3h4.0v4.0h-4.0zM225.0 352.9h4.0v4.0h-4.0zM228.3 353.6h4.0v4.0h-4.0zM231.6 354.3h4.0v4.0h-4.0zM234.9 355.0h4.0v4.0h-4.0zM238.2 355.6h4.0v4.0h-4.0zM241.5 355.9h4.0v4.0h-4.0zM244.8 355.9h4.0v4.0h-4.0zM248.1 356.1h4.0v4.0h-4.0zM251.4 356.5h4.0v4.0h-4.0zM254.7 356.8h4.0v4.0h-4.0zM258.0 357.1h4.0v4.0h-4.0zM261.3 357.0h4.0v4.0h-4.0zM264.6 356.9h4.0v4.0h-4.0zM267.9 356.8h4.0v4.0h-4.0zM271.2 356.8h4.0v4.0h-4.0zM274.5 356.8h4.0v4.0h-4.0zM277.8 356.8h4.0v4.0h-4.0zM281.1 356.8h4.0v4.0h-4.0zM284.4 356.8h4.0v4.0h-4.0zM287.7 356.8h4.0v4.0h-4.0zM291.0 357.1h4.0v4.0h-4.0zM294.3 357.3h4.0v4.0h-4.0zM297.6 357.6h4.0v4.0h-4.0zM300.9 357.9h4.0v4.0h-4.0zM304.2 358.1h4.0v4.0h-4.0zM307.5 358.4h4.0v4.0h-4.0zM310.8 358.5h4.0v4.0h-4.0zM314.1 358.6h4.0v4.0h-4.0zM317.4 358.8h4.0v4.0h-4.0zM320.7 358.9h4.0v4.0h-4.0zM324.0 359.0h4.0v4.0h-4.0z" fill="#1428e0"/>
<path d="M35.6 361.9L118.9 361.9L121.2 348.9L123.8 345.4L125.7 346.0L128.5 342.4L132.2 337.7L135.1 332.2L137.0 336.8L139.8 341.5L142.6 347.1L146.4 352.8L150.1 356.6L153.9 356.2L157.7 354.7L161.4 356.6L166.1 356.9L170.8 356.6L174.6 352.8L177.4 347.1L180.3 339.6L183.1 332.2L185.0 335.8L187.8 345.4L191.0 347.6L195.3 350.9L198.2 351.5L204.1 356.8L208.8 352.6L213.5 346.7L218.2 344.9L222.9 346.7L227.6 350.2L232.4 353.2L238.2 354.4L244.1 353.2L250.0 352.6L255.9 355.0L261.6 357.1L268.3 357.7L274.9 356.0L281.6 354.9L288.2 354.7L292.7 354.3L298.2 355.4L304.8 357.1L312.6 358.2L321.4 358.8L326.7 359.4" stroke="#7a8794" stroke-width="2.3" fill="none" stroke-linejoin="round"/>
<path d="M33.4 359.7h4.4v4.4h-4.4zM39.2 359.7h4.4v4.4h-4.4zM45.0 359.7h4.4v4.4h-4.4zM50.9 359.7h4.4v4.4h-4.4zM56.7 359.7h4.4v4.4h-4.4zM62.5 359.7h4.4v4.4h-4.4zM68.3 359.7h4.4v4.4h-4.4zM74.1 359.7h4.4v4.4h-4.4zM80.0 359.7h4.4v4.4h-4.4zM85.8 359.7h4.4v4.4h-4.4zM91.6 359.7h4.4v4.4h-4.4zM97.4 359.7h4.4v4.4h-4.4zM103.2 359.7h4.4v4.4h-4.4zM109.1 359.7h4.4v4.4h-4.4zM114.9 359.7h4.4v4.4h-4.4zM120.7 344.4h4.4v4.4h-4.4zM126.5 339.9h4.4v4.4h-4.4zM132.3 331.1h4.4v4.4h-4.4zM138.2 340.5h4.4v4.4h-4.4zM144.0 350.3h4.4v4.4h-4.4zM149.8 354.2h4.4v4.4h-4.4zM155.6 352.6h4.4v4.4h-4.4zM161.4 354.6h4.4v4.4h-4.4zM167.3 354.5h4.4v4.4h-4.4zM173.1 349.2h4.4v4.4h-4.4zM178.9 335.3h4.4v4.4h-4.4zM184.7 340.2h4.4v4.4h-4.4zM190.5 346.7h4.4v4.4h-4.4zM196.4 349.6h4.4v4.4h-4.4zM202.2 354.4h4.4v4.4h-4.4zM208.0 348.6h4.4v4.4h-4.4zM213.8 343.6h4.4v4.4h-4.4zM219.6 344.1h4.4v4.4h-4.4zM225.5 348.1h4.4v4.4h-4.4zM231.3 351.2h4.4v4.4h-4.4zM237.1 352.0h4.4v4.4h-4.4zM242.9 350.9h4.4v4.4h-4.4zM248.7 350.8h4.4v4.4h-4.4zM254.6 353.1h4.4v4.4h-4.4zM260.4 355.0h4.4v4.4h-4.4zM266.2 355.4h4.4v4.4h-4.4zM272.0 353.9h4.4v4.4h-4.4zM277.8 353.0h4.4v4.4h-4.4zM283.7 352.6h4.4v4.4h-4.4zM289.5 352.2h4.4v4.4h-4.4zM295.3 353.1h4.4v4.4h-4.4zM301.1 354.5h4.4v4.4h-4.4zM306.9 355.5h4.4v4.4h-4.4zM312.8 356.2h4.4v4.4h-4.4zM318.6 356.6h4.4v4.4h-4.4zM324.4 357.1h4.4v4.4h-4.4z" fill="#7a8794"/>
<path d="M380.6 362.0L490.5 362.0L492.0 356.6L493.5 350.6L496.6 347.5L499.6 345.9L502.5 342.0L503.8 341.5L505.0 345.3L506.5 350.1L508.5 354.0L511.6 356.1L514.8 354.9L517.5 357.6L520.1 360.2L523.3 361.3L527.5 362.0L671.8 362.0" stroke="#e8141c" stroke-width="1.9" fill="none" stroke-linejoin="round"/>
<path d="M378.8 362.0a1.8 1.8 0 1 0 3.6 0a1.8 1.8 0 1 0 -3.6 0zM381.7 362.0a1.8 1.8 0 1 0 3.6 0a1.8 1.8 0 1 0 -3.6 0zM384.6 362.0a1.8 1.8 0 1 0 3.6 0a1.8 1.8 0 1 0 -3.6 0zM387.5 362.0a1.8 1.8 0 1 0 3.6 0a1.8 1.8 0 1 0 -3.6 0zM390.4 362.0a1.8 1.8 0 1 0 3.6 0a1.8 1.8 0 1 0 -3.6 0zM393.3 362.0a1.8 1.8 0 1 0 3.6 0a1.8 1.8 0 1 0 -3.6 0zM396.2 362.0a1.8 1.8 0 1 0 3.6 0a1.8 1.8 0 1 0 -3.6 0zM399.1 362.0a1.8 1.8 0 1 0 3.6 0a1.8 1.8 0 1 0 -3.6 0zM402.0 362.0a1.8 1.8 0 1 0 3.6 0a1.8 1.8 0 1 0 -3.6 0zM404.9 362.0a1.8 1.8 0 1 0 3.6 0a1.8 1.8 0 1 0 -3.6 0zM407.8 362.0a1.8 1.8 0 1 0 3.6 0a1.8 1.8 0 1 0 -3.6 0zM410.7 362.0a1.8 1.8 0 1 0 3.6 0a1.8 1.8 0 1 0 -3.6 0zM413.6 362.0a1.8 1.8 0 1 0 3.6 0a1.8 1.8 0 1 0 -3.6 0zM416.5 362.0a1.8 1.8 0 1 0 3.6 0a1.8 1.8 0 1 0 -3.6 0zM419.4 362.0a1.8 1.8 0 1 0 3.6 0a1.8 1.8 0 1 0 -3.6 0zM422.3 362.0a1.8 1.8 0 1 0 3.6 0a1.8 1.8 0 1 0 -3.6 0zM425.2 362.0a1.8 1.8 0 1 0 3.6 0a1.8 1.8 0 1 0 -3.6 0zM428.1 362.0a1.8 1.8 0 1 0 3.6 0a1.8 1.8 0 1 0 -3.6 0zM431.0 362.0a1.8 1.8 0 1 0 3.6 0a1.8 1.8 0 1 0 -3.6 0zM433.9 362.0a1.8 1.8 0 1 0 3.6 0a1.8 1.8 0 1 0 -3.6 0zM436.8 362.0a1.8 1.8 0 1 0 3.6 0a1.8 1.8 0 1 0 -3.6 0zM439.7 362.0a1.8 1.8 0 1 0 3.6 0a1.8 1.8 0 1 0 -3.6 0zM442.6 362.0a1.8 1.8 0 1 0 3.6 0a1.8 1.8 0 1 0 -3.6 0zM445.5 362.0a1.8 1.8 0 1 0 3.6 0a1.8 1.8 0 1 0 -3.6 0zM448.4 362.0a1.8 1.8 0 1 0 3.6 0a1.8 1.8 0 1 0 -3.6 0zM451.3 362.0a1.8 1.8 0 1 0 3.6 0a1.8 1.8 0 1 0 -3.6 0zM454.2 362.0a1.8 1.8 0 1 0 3.6 0a1.8 1.8 0 1 0 -3.6 0zM457.1 362.0a1.8 1.8 0 1 0 3.6 0a1.8 1.8 0 1 0 -3.6 0zM460.0 362.0a1.8 1.8 0 1 0 3.6 0a1.8 1.8 0 1 0 -3.6 0zM462.9 362.0a1.8 1.8 0 1 0 3.6 0a1.8 1.8 0 1 0 -3.6 0zM465.8 362.0a1.8 1.8 0 1 0 3.6 0a1.8 1.8 0 1 0 -3.6 0zM468.7 362.0a1.8 1.8 0 1 0 3.6 0a1.8 1.8 0 1 0 -3.6 0zM471.6 362.0a1.8 1.8 0 1 0 3.6 0a1.8 1.8 0 1 0 -3.6 0zM474.5 362.0a1.8 1.8 0 1 0 3.6 0a1.8 1.8 0 1 0 -3.6 0zM477.4 362.0a1.8 1.8 0 1 0 3.6 0a1.8 1.8 0 1 0 -3.6 0zM480.3 362.0a1.8 1.8 0 1 0 3.6 0a1.8 1.8 0 1 0 -3.6 0zM483.2 362.0a1.8 1.8 0 1 0 3.6 0a1.8 1.8 0 1 0 -3.6 0zM486.1 362.0a1.8 1.8 0 1 0 3.6 0a1.8 1.8 0 1 0 -3.6 0zM488.7 362.0a1.8 1.8 0 1 0 3.6 0a1.8 1.8 0 1 0 -3.6 0zM490.2 356.6a1.8 1.8 0 1 0 3.6 0a1.8 1.8 0 1 0 -3.6 0zM491.7 350.6a1.8 1.8 0 1 0 3.6 0a1.8 1.8 0 1 0 -3.6 0zM494.8 347.5a1.8 1.8 0 1 0 3.6 0a1.8 1.8 0 1 0 -3.6 0zM497.8 345.9a1.8 1.8 0 1 0 3.6 0a1.8 1.8 0 1 0 -3.6 0zM500.7 342.0a1.8 1.8 0 1 0 3.6 0a1.8 1.8 0 1 0 -3.6 0zM502.0 341.5a1.8 1.8 0 1 0 3.6 0a1.8 1.8 0 1 0 -3.6 0zM503.2 345.3a1.8 1.8 0 1 0 3.6 0a1.8 1.8 0 1 0 -3.6 0zM504.7 350.1a1.8 1.8 0 1 0 3.6 0a1.8 1.8 0 1 0 -3.6 0zM506.7 354.0a1.8 1.8 0 1 0 3.6 0a1.8 1.8 0 1 0 -3.6 0zM509.8 356.1a1.8 1.8 0 1 0 3.6 0a1.8 1.8 0 1 0 -3.6 0zM513.0 354.9a1.8 1.8 0 1 0 3.6 0a1.8 1.8 0 1 0 -3.6 0zM515.7 357.6a1.8 1.8 0 1 0 3.6 0a1.8 1.8 0 1 0 -3.6 0zM518.3 360.2a1.8 1.8 0 1 0 3.6 0a1.8 1.8 0 1 0 -3.6 0zM521.5 361.3a1.8 1.8 0 1 0 3.6 0a1.8 1.8 0 1 0 -3.6 0zM523.8 361.7a1.8 1.8 0 1 0 3.6 0a1.8 1.8 0 1 0 -3.6 0zM525.7 362.0a1.8 1.8 0 1 0 3.6 0a1.8 1.8 0 1 0 -3.6 0zM529.6 362.0a1.8 1.8 0 1 0 3.6 0a1.8 1.8 0 1 0 -3.6 0zM532.5 362.0a1.8 1.8 0 1 0 3.6 0a1.8 1.8 0 1 0 -3.6 0zM535.4 362.0a1.8 1.8 0 1 0 3.6 0a1.8 1.8 0 1 0 -3.6 0zM538.3 362.0a1.8 1.8 0 1 0 3.6 0a1.8 1.8 0 1 0 -3.6 0zM541.2 362.0a1.8 1.8 0 1 0 3.6 0a1.8 1.8 0 1 0 -3.6 0zM544.1 362.0a1.8 1.8 0 1 0 3.6 0a1.8 1.8 0 1 0 -3.6 0zM547.0 362.0a1.8 1.8 0 1 0 3.6 0a1.8 1.8 0 1 0 -3.6 0zM549.9 362.0a1.8 1.8 0 1 0 3.6 0a1.8 1.8 0 1 0 -3.6 0zM552.8 362.0a1.8 1.8 0 1 0 3.6 0a1.8 1.8 0 1 0 -3.6 0zM555.7 362.0a1.8 1.8 0 1 0 3.6 0a1.8 1.8 0 1 0 -3.6 0zM558.6 362.0a1.8 1.8 0 1 0 3.6 0a1.8 1.8 0 1 0 -3.6 0zM561.5 362.0a1.8 1.8 0 1 0 3.6 0a1.8 1.8 0 1 0 -3.6 0zM564.4 362.0a1.8 1.8 0 1 0 3.6 0a1.8 1.8 0 1 0 -3.6 0zM567.3 362.0a1.8 1.8 0 1 0 3.6 0a1.8 1.8 0 1 0 -3.6 0zM570.2 362.0a1.8 1.8 0 1 0 3.6 0a1.8 1.8 0 1 0 -3.6 0zM573.1 362.0a1.8 1.8 0 1 0 3.6 0a1.8 1.8 0 1 0 -3.6 0zM576.0 362.0a1.8 1.8 0 1 0 3.6 0a1.8 1.8 0 1 0 -3.6 0zM578.9 362.0a1.8 1.8 0 1 0 3.6 0a1.8 1.8 0 1 0 -3.6 0zM581.8 362.0a1.8 1.8 0 1 0 3.6 0a1.8 1.8 0 1 0 -3.6 0zM584.7 362.0a1.8 1.8 0 1 0 3.6 0a1.8 1.8 0 1 0 -3.6 0zM587.6 362.0a1.8 1.8 0 1 0 3.6 0a1.8 1.8 0 1 0 -3.6 0zM590.5 362.0a1.8 1.8 0 1 0 3.6 0a1.8 1.8 0 1 0 -3.6 0zM593.4 362.0a1.8 1.8 0 1 0 3.6 0a1.8 1.8 0 1 0 -3.6 0zM596.3 362.0a1.8 1.8 0 1 0 3.6 0a1.8 1.8 0 1 0 -3.6 0zM599.2 362.0a1.8 1.8 0 1 0 3.6 0a1.8 1.8 0 1 0 -3.6 0zM602.1 362.0a1.8 1.8 0 1 0 3.6 0a1.8 1.8 0 1 0 -3.6 0zM605.0 362.0a1.8 1.8 0 1 0 3.6 0a1.8 1.8 0 1 0 -3.6 0zM607.9 362.0a1.8 1.8 0 1 0 3.6 0a1.8 1.8 0 1 0 -3.6 0zM610.8 362.0a1.8 1.8 0 1 0 3.6 0a1.8 1.8 0 1 0 -3.6 0zM613.7 362.0a1.8 1.8 0 1 0 3.6 0a1.8 1.8 0 1 0 -3.6 0zM616.6 362.0a1.8 1.8 0 1 0 3.6 0a1.8 1.8 0 1 0 -3.6 0zM619.5 362.0a1.8 1.8 0 1 0 3.6 0a1.8 1.8 0 1 0 -3.6 0zM622.4 362.0a1.8 1.8 0 1 0 3.6 0a1.8 1.8 0 1 0 -3.6 0zM625.3 362.0a1.8 1.8 0 1 0 3.6 0a1.8 1.8 0 1 0 -3.6 0zM628.2 362.0a1.8 1.8 0 1 0 3.6 0a1.8 1.8 0 1 0 -3.6 0zM631.1 362.0a1.8 1.8 0 1 0 3.6 0a1.8 1.8 0 1 0 -3.6 0zM634.0 362.0a1.8 1.8 0 1 0 3.6 0a1.8 1.8 0 1 0 -3.6 0zM636.9 362.0a1.8 1.8 0 1 0 3.6 0a1.8 1.8 0 1 0 -3.6 0zM639.8 362.0a1.8 1.8 0 1 0 3.6 0a1.8 1.8 0 1 0 -3.6 0zM642.7 362.0a1.8 1.8 0 1 0 3.6 0a1.8 1.8 0 1 0 -3.6 0zM645.6 362.0a1.8 1.8 0 1 0 3.6 0a1.8 1.8 0 1 0 -3.6 0zM648.5 362.0a1.8 1.8 0 1 0 3.6 0a1.8 1.8 0 1 0 -3.6 0zM651.4 362.0a1.8 1.8 0 1 0 3.6 0a1.8 1.8 0 1 0 -3.6 0zM654.3 362.0a1.8 1.8 0 1 0 3.6 0a1.8 1.8 0 1 0 -3.6 0zM657.2 362.0a1.8 1.8 0 1 0 3.6 0a1.8 1.8 0 1 0 -3.6 0zM660.1 362.0a1.8 1.8 0 1 0 3.6 0a1.8 1.8 0 1 0 -3.6 0zM663.0 362.0a1.8 1.8 0 1 0 3.6 0a1.8 1.8 0 1 0 -3.6 0zM665.9 362.0a1.8 1.8 0 1 0 3.6 0a1.8 1.8 0 1 0 -3.6 0zM668.8 362.0a1.8 1.8 0 1 0 3.6 0a1.8 1.8 0 1 0 -3.6 0z" fill="#e8141c"/>
<path d="M380.6 362.0L460.0 362.0L462.9 358.9L466.8 356.6L469.1 354.2L472.1 357.3L476.7 356.6L481.3 357.3L485.9 358.0L490.5 357.3L495.0 354.9L499.6 352.8L502.7 350.6L505.7 353.5L508.8 354.9L510.6 358.6L513.8 357.6L516.9 356.5L519.6 354.9L521.2 352.8L522.8 354.4L525.4 357.6L528.6 358.6L531.7 358.0L534.9 359.7L537.0 359.2L540.2 360.2L550.0 360.6L600.0 360.9L671.8 361.3" stroke="#1428e0" stroke-width="1.9" fill="none" stroke-linejoin="round" stroke-dasharray="3 2"/>
<path d="M380.6 359.8l2.0 3.8h-4.0zM383.5 359.8l2.0 3.8h-4.0zM386.4 359.8l2.0 3.8h-4.0zM389.4 359.8l2.0 3.8h-4.0zM392.3 359.8l2.0 3.8h-4.0zM395.2 359.8l2.0 3.8h-4.0zM398.1 359.8l2.0 3.8h-4.0zM401.0 359.8l2.0 3.8h-4.0zM404.0 359.8l2.0 3.8h-4.0zM406.9 359.8l2.0 3.8h-4.0zM409.8 359.8l2.0 3.8h-4.0zM412.7 359.8l2.0 3.8h-4.0zM415.6 359.8l2.0 3.8h-4.0zM418.6 359.8l2.0 3.8h-4.0zM421.5 359.8l2.0 3.8h-4.0zM424.4 359.8l2.0 3.8h-4.0zM427.3 359.8l2.0 3.8h-4.0zM430.2 359.8l2.0 3.8h-4.0zM433.2 359.8l2.0 3.8h-4.0zM436.1 359.8l2.0 3.8h-4.0zM439.0 359.8l2.0 3.8h-4.0zM441.9 359.8l2.0 3.8h-4.0zM444.8 359.8l2.0 3.8h-4.0zM447.8 359.8l2.0 3.8h-4.0zM450.7 359.8l2.0 3.8h-4.0zM453.6 359.8l2.0 3.8h-4.0zM456.5 359.8l2.0 3.8h-4.0zM459.4 359.8l2.0 3.8h-4.0zM462.4 357.3l2.0 3.8h-4.0zM465.3 355.3l2.0 3.8h-4.0zM468.2 353.0l2.0 3.8h-4.0zM471.1 354.1l2.0 3.8h-4.0zM474.0 354.8l2.0 3.8h-4.0zM477.0 354.5l2.0 3.8h-4.0zM479.9 354.9l2.0 3.8h-4.0zM482.8 355.4l2.0 3.8h-4.0zM485.7 355.8l2.0 3.8h-4.0zM488.6 355.4l2.0 3.8h-4.0zM491.6 354.6l2.0 3.8h-4.0zM494.5 353.0l2.0 3.8h-4.0zM497.4 351.6l2.0 3.8h-4.0zM500.3 350.1l2.0 3.8h-4.0zM503.2 348.9l2.0 3.8h-4.0zM506.2 351.5l2.0 3.8h-4.0zM509.1 353.3l2.0 3.8h-4.0zM512.0 356.0l2.0 3.8h-4.0zM514.9 355.0l2.0 3.8h-4.0zM517.8 353.8l2.0 3.8h-4.0zM520.8 351.2l2.0 3.8h-4.0zM523.7 353.3l2.0 3.8h-4.0zM526.6 355.8l2.0 3.8h-4.0zM529.5 356.2l2.0 3.8h-4.0zM532.4 356.2l2.0 3.8h-4.0zM535.4 357.4l2.0 3.8h-4.0zM538.3 357.4l2.0 3.8h-4.0zM541.2 358.0l2.0 3.8h-4.0zM544.1 358.1l2.0 3.8h-4.0zM547.0 358.3l2.0 3.8h-4.0zM550.0 358.4l2.0 3.8h-4.0zM552.9 358.4l2.0 3.8h-4.0zM555.8 358.4l2.0 3.8h-4.0zM558.7 358.4l2.0 3.8h-4.0zM561.6 358.5l2.0 3.8h-4.0zM564.6 358.5l2.0 3.8h-4.0zM567.5 358.5l2.0 3.8h-4.0zM570.4 358.5l2.0 3.8h-4.0zM573.3 358.5l2.0 3.8h-4.0zM576.2 358.5l2.0 3.8h-4.0zM579.2 358.6l2.0 3.8h-4.0zM582.1 358.6l2.0 3.8h-4.0zM585.0 358.6l2.0 3.8h-4.0zM587.9 358.6l2.0 3.8h-4.0zM590.8 358.6l2.0 3.8h-4.0zM593.8 358.6l2.0 3.8h-4.0zM596.7 358.7l2.0 3.8h-4.0zM599.6 358.7l2.0 3.8h-4.0zM602.5 358.7l2.0 3.8h-4.0zM605.4 358.7l2.0 3.8h-4.0zM608.4 358.7l2.0 3.8h-4.0zM611.3 358.7l2.0 3.8h-4.0zM614.2 358.8l2.0 3.8h-4.0zM617.1 358.8l2.0 3.8h-4.0zM620.0 358.8l2.0 3.8h-4.0zM623.0 358.8l2.0 3.8h-4.0zM625.9 358.8l2.0 3.8h-4.0zM628.8 358.8l2.0 3.8h-4.0zM631.7 358.9l2.0 3.8h-4.0zM634.6 358.9l2.0 3.8h-4.0zM637.6 358.9l2.0 3.8h-4.0zM640.5 358.9l2.0 3.8h-4.0zM643.4 358.9l2.0 3.8h-4.0zM646.3 358.9l2.0 3.8h-4.0zM649.2 359.0l2.0 3.8h-4.0zM652.2 359.0l2.0 3.8h-4.0zM655.1 359.0l2.0 3.8h-4.0zM658.0 359.0l2.0 3.8h-4.0zM660.9 359.0l2.0 3.8h-4.0zM663.8 359.0l2.0 3.8h-4.0zM666.8 359.1l2.0 3.8h-4.0zM669.7 359.1l2.0 3.8h-4.0z" fill="#1428e0"/>
<path d="M380.6 362.0L399.8 362.0L401.4 351.0L403.1 342.8L404.7 336.2L406.4 322.9L408.0 304.9L408.7 299.9L409.8 290.2L411.5 278.6L414.3 243.5L415.6 267.7L416.2 295.0L417.9 319.7L419.2 342.8L420.4 355.1L422.0 358.5L424.5 355.1L427.0 353.5L429.4 353.5L432.7 356.1L436.0 357.6L439.3 358.5L442.6 358.5L445.9 356.8L448.4 347.7L450.7 343.7L453.0 345.9L454.5 352.0L456.1 357.3L458.3 360.4L462.9 358.9L467.5 356.6L472.1 353.5L475.9 354.2L479.8 355.8L484.3 355.8L488.9 356.6L493.5 356.6L498.1 354.9L502.7 353.5L506.3 351.7L508.5 351.1L511.6 354.0L515.9 356.1L520.1 356.5L524.3 357.6L528.6 358.6L533.9 359.7L540.2 360.2L546.6 360.3L552.9 360.0L560.0 360.4L600.0 360.9L671.8 361.3" stroke="#7a8794" stroke-width="2.3" fill="none" stroke-linejoin="round"/>
<path d="M378.4 359.8h4.4v4.4h-4.4zM384.3 359.8h4.4v4.4h-4.4zM390.1 359.8h4.4v4.4h-4.4zM396.0 359.8h4.4v4.4h-4.4zM401.8 336.9h4.4v4.4h-4.4zM407.7 287.6h4.4v4.4h-4.4zM413.5 270.1h4.4v4.4h-4.4zM419.4 355.3h4.4v4.4h-4.4zM425.2 351.3h4.4v4.4h-4.4zM431.1 354.1h4.4v4.4h-4.4zM436.9 356.2h4.4v4.4h-4.4zM442.8 355.1h4.4v4.4h-4.4zM448.6 341.6h4.4v4.4h-4.4zM454.5 355.9h4.4v4.4h-4.4zM460.3 356.8h4.4v4.4h-4.4zM466.2 353.9h4.4v4.4h-4.4zM472.0 351.7h4.4v4.4h-4.4zM477.9 353.6h4.4v4.4h-4.4zM483.7 353.9h4.4v4.4h-4.4zM489.6 354.4h4.4v4.4h-4.4zM495.4 352.9h4.4v4.4h-4.4zM501.3 351.0h4.4v4.4h-4.4zM507.1 349.7h4.4v4.4h-4.4zM512.9 353.5h4.4v4.4h-4.4zM518.8 354.5h4.4v4.4h-4.4zM524.6 356.0h4.4v4.4h-4.4zM530.5 357.3h4.4v4.4h-4.4zM536.3 357.9h4.4v4.4h-4.4zM542.2 358.1h4.4v4.4h-4.4zM548.0 357.9h4.4v4.4h-4.4zM553.9 358.0h4.4v4.4h-4.4zM559.8 358.3h4.4v4.4h-4.4zM565.6 358.3h4.4v4.4h-4.4zM571.4 358.4h4.4v4.4h-4.4zM577.3 358.5h4.4v4.4h-4.4zM583.1 358.5h4.4v4.4h-4.4zM589.0 358.6h4.4v4.4h-4.4zM594.8 358.6h4.4v4.4h-4.4zM600.7 358.7h4.4v4.4h-4.4zM606.5 358.7h4.4v4.4h-4.4zM612.4 358.8h4.4v4.4h-4.4zM618.2 358.8h4.4v4.4h-4.4zM624.1 358.8h4.4v4.4h-4.4zM629.9 358.9h4.4v4.4h-4.4zM635.8 358.9h4.4v4.4h-4.4zM641.6 358.9h4.4v4.4h-4.4zM647.5 359.0h4.4v4.4h-4.4zM653.3 359.0h4.4v4.4h-4.4zM659.2 359.0h4.4v4.4h-4.4zM665.0 359.1h4.4v4.4h-4.4z" fill="#7a8794"/>
</g>
<path d="M33.2 145.6H324.6" stroke="#000" stroke-opacity="0.45" stroke-width="2.4"/>
<path d="M376.7 145.7H668.0" stroke="#000" stroke-opacity="0.45" stroke-width="2.4"/>
<path d="M35.6 361.9H326.7" stroke="#000" stroke-opacity="0.45" stroke-width="2.4"/>
<path d="M380.6 362.0H671.8" stroke="#000" stroke-opacity="0.45" stroke-width="2.4"/>
<text x="-0.4" y="9.7" class="p">(</text>
<text transform="translate(4.5,9.7) scale(1.08,1)" class="p">A</text>
<text x="14.9" y="9.7" class="p">)</text>
<text x="341.5" y="9.7" class="p">(</text>
<text transform="translate(346.1,9.7) scale(1.2,1)" class="p">B</text>
<text x="357.1" y="9.7" class="p">)</text>
<rect x="32.2" y="188.6" width="296.6" height="19.4" fill="none" stroke="#555" stroke-width="1"/>
<text x="52.3" y="196.7" textLength="95.2" lengthAdjust="spacingAndGlyphs" class="l">DMPC, A<tspan class="b">β</tspan>(1-28)-A<tspan class="b">β</tspan>(1-28)</text>
<path d="M152.0 193.0H176.0" stroke="#e8141c" stroke-width="2.0" fill="none"/>
<path d="M161.3 193.0h5.4M164.0 190.3v5.4M161.3 190.3l5.4 5.4M166.7 190.3l-5.4 5.4" stroke="#e8141c" stroke-width="1.2"/>
<text x="43.3" y="206.7" textLength="104.2" lengthAdjust="spacingAndGlyphs" class="l">DMPC, A<tspan class="b">β</tspan>(26-40)-A<tspan class="b">β</tspan>(26-40)</text>
<path d="M152.0 203.2H176.0" stroke="#5a0ae6" stroke-width="2.0" fill="none" stroke-dasharray="3.6 1.6"/>
<rect x="161.4" y="200.6" width="5.2" height="5.2" fill="#5a0ae6"/>
<text x="202.4" y="196.7" textLength="94.8" lengthAdjust="spacingAndGlyphs" class="l">SDPC, A<tspan class="b">β</tspan>(1-28)-A<tspan class="b">β</tspan>(1-28)</text>
<path d="M301.0 192.7H324.0" stroke="#f3a41e" stroke-width="2.0" fill="none"/>
<circle cx="312.5" cy="192.7" r="2.4" fill="#f3a41e"/>
<text x="193.6" y="206.7" textLength="103.6" lengthAdjust="spacingAndGlyphs" class="l">SDPC, A<tspan class="b">β</tspan>(26-40)-A<tspan class="b">β</tspan>(26-40)</text>
<path d="M301.0 203.0H325.0" stroke="#2ee6e6" stroke-width="2.0" fill="none"/>
<path d="M313.0 200.2l2.5 4.8h-5.0z" fill="#2ee6e6"/>
<rect x="365.5" y="186.4" width="307.5" height="19.8" fill="none" stroke="#555" stroke-width="1"/>
<text x="380.5" y="195.0" textLength="103.2" lengthAdjust="spacingAndGlyphs" class="l">Nor<tspan dx="1.2">mal</tspan>, A<tspan class="b">β</tspan>(1-28)-A<tspan class="b">β</tspan>(1-28)</text>
<path d="M488.8 191.5H512.5" stroke="#e8141c" stroke-width="2.0" fill="none"/>
<path d="M497.9 191.5h5.4M500.6 188.8v5.4M497.9 188.8l5.4 5.4M503.3 188.8l-5.4 5.4" stroke="#e8141c" stroke-width="1.2"/>
<text x="371.5" y="205.2" textLength="112.2" lengthAdjust="spacingAndGlyphs" class="l">Nor<tspan dx="1.2">mal</tspan>, A<tspan class="b">β</tspan>(26-40)-A<tspan class="b">β</tspan>(26-40)</text>
<path d="M488.8 202.2H512.5" stroke="#1428e0" stroke-width="2.0" fill="none" stroke-dasharray="3.6 1.6"/>
<rect x="498.0" y="199.6" width="5.2" height="5.2" fill="#1428e0"/>
<text x="559.0" y="195.0" textLength="84.5" lengthAdjust="spacingAndGlyphs" class="l">AD, A<tspan class="b">β</tspan>(1-28)-A<tspan class="b">β</tspan>(1-28)</text>
<path d="M648.1 191.5H670.8" stroke="#f3a41e" stroke-width="2.0" fill="none"/>
<circle cx="659.5" cy="191.5" r="2.4" fill="#f3a41e"/>
<text x="550.4" y="205.2" textLength="93.1" lengthAdjust="spacingAndGlyphs" class="l">AD, A<tspan class="b">β</tspan>(26-40)-A<tspan class="b">β</tspan>(26-40)</text>
<path d="M648.1 202.2H670.8" stroke="#2ee6e6" stroke-width="2.0" fill="none"/>
<path d="M659.5 199.4l2.5 4.8h-5.0z" fill="#2ee6e6"/>
<rect x="22.4" y="403.6" width="310.0" height="19.7" fill="none" stroke="#555" stroke-width="1"/>
<text x="37.6" y="412.6" textLength="102.5" lengthAdjust="spacingAndGlyphs" class="l">Nor<tspan dx="1.2">mal</tspan>, A<tspan class="b">β</tspan>(1-28)-A<tspan class="b">β</tspan>(1-28)</text>
<path d="M144.6 409.3H168.7" stroke="#e8141c" stroke-width="2.0" fill="none"/>
<path d="M153.9 409.3h5.4M156.6 406.6v5.4M153.9 406.6l5.4 5.4M159.3 406.6l-5.4 5.4" stroke="#e8141c" stroke-width="1.2"/>
<text x="28.4" y="422.7" textLength="111.7" lengthAdjust="spacingAndGlyphs" class="l">Nor<tspan dx="1.2">mal</tspan>, A<tspan class="b">β</tspan>(26-40)-A<tspan class="b">β</tspan>(26-40)</text>
<path d="M144.6 419.6H168.7" stroke="#1428e0" stroke-width="2.0" fill="none" stroke-dasharray="3.6 1.6"/>
<rect x="154.0" y="417.0" width="5.2" height="5.2" fill="#1428e0"/>
<text x="192.8" y="412.1" textLength="108.2" lengthAdjust="spacingAndGlyphs" class="l">Nor<tspan dx="1.2">mal</tspan>, A<tspan class="b">β</tspan>(1-28)-A<tspan class="b">β</tspan>(26-40)</text>
<path d="M304.6 408.4H327.5" stroke="#7a8794" stroke-width="2.0" fill="none"/>
<rect x="313.7" y="406.0" width="4.8" height="4.8" fill="#7a8794"/>
<rect x="383.8" y="401.8" width="281.5" height="20.0" fill="none" stroke="#555" stroke-width="1"/>
<text x="406.8" y="410.8" textLength="85.2" lengthAdjust="spacingAndGlyphs" class="l">AD, A<tspan class="b">β</tspan>(1-28)-A<tspan class="b">β</tspan>(1-28)</text>
<path d="M495.3 407.3H520.1" stroke="#e8141c" stroke-width="2.0" fill="none"/>
<circle cx="507.7" cy="407.3" r="2.3" fill="#e8141c"/>
<text x="397.6" y="421.3" textLength="94.4" lengthAdjust="spacingAndGlyphs" class="l">AD, A<tspan class="b">β</tspan>(26-40)-A<tspan class="b">β</tspan>(26-40)</text>
<path d="M495.3 418.0H520.1" stroke="#1428e0" stroke-width="2.0" fill="none" stroke-dasharray="3.6 1.6"/>
<path d="M507.7 415.2l2.5 4.8h-5.0z" fill="#1428e0"/>
<text x="543.4" y="410.3" textLength="89.7" lengthAdjust="spacingAndGlyphs" class="l">AD, A<tspan class="b">β</tspan>(1-28)-A<tspan class="b">β</tspan>(26-40)</text>
<path d="M637.1 406.3H660.0" stroke="#7a8794" stroke-width="2.0" fill="none"/>
<rect x="646.1" y="403.9" width="4.8" height="4.8" fill="#7a8794"/>
</svg></body></html>
